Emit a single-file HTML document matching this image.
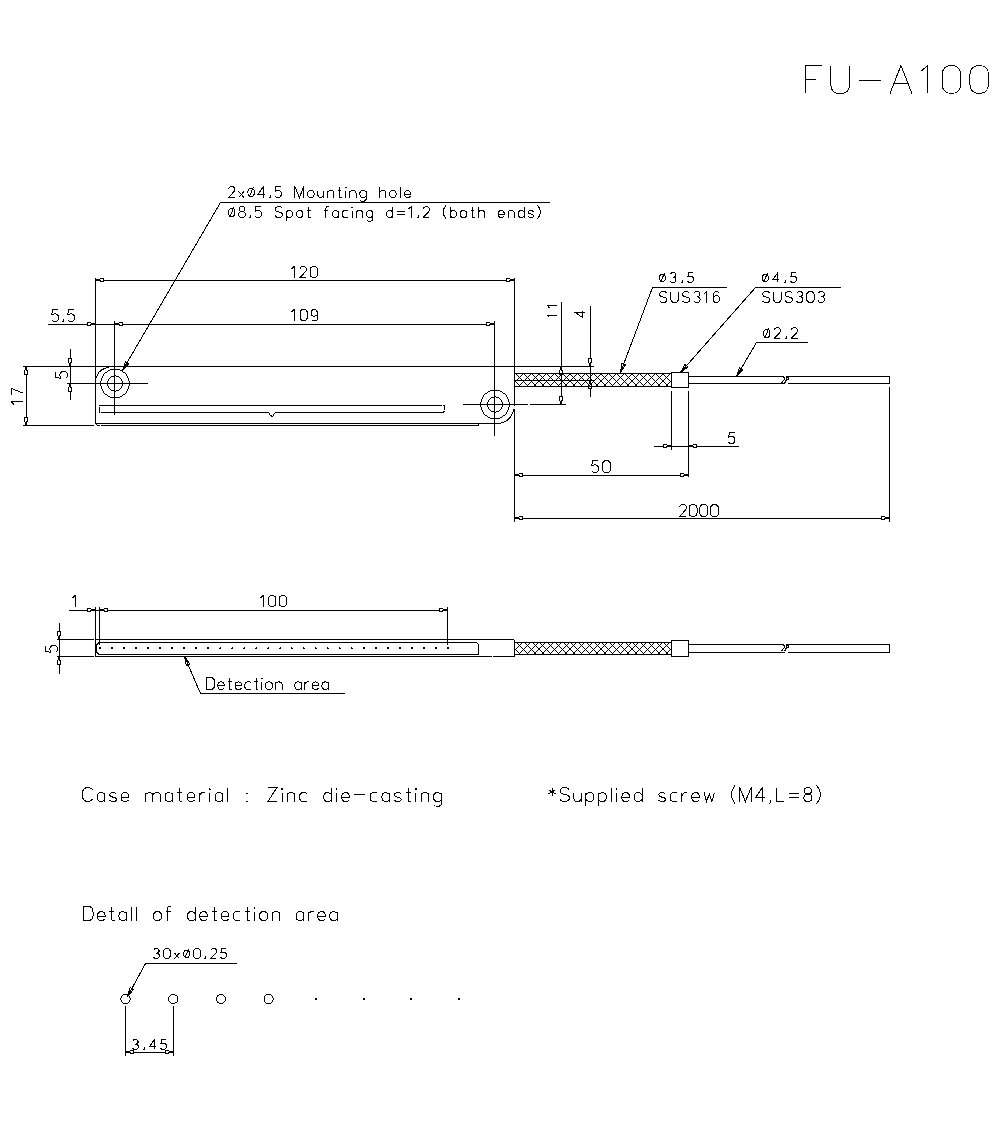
<!DOCTYPE html>
<html><head><meta charset="utf-8"><style>
html,body{margin:0;padding:0;background:#fff;}
body{width:1000px;height:1122px;overflow:hidden;}
svg{display:block;}
rect{fill:#000;}
.f{fill:#000 !important;stroke:none !important;}
path,circle{fill:none;stroke:#000;stroke-width:1;vector-effect:non-scaling-stroke;}
</style></head><body>
<svg width="1000" height="1122" viewBox="0 0 1000 1122" shape-rendering="crispEdges">
<g class="t"><path transform="translate(805.50,65.50) scale(2.3333,2.3333)" d="M7,0 L0,0 L0,12 M0,5.8 L4.3,5.8"/><path transform="translate(830.87,65.50) scale(2.3333,2.3333)" d="M0,0 L0,8.4 C0,10.8 1.4,12 4,12 C6.6,12 8,10.8 8,8.4 L8,0"/><path transform="translate(858.57,65.50) scale(2.3333,2.3333)" d="M0,6.4 L9.6,6.4"/><path transform="translate(890.00,65.50) scale(2.3333,2.3333)" d="M0,12 L4.7,0 L9.4,12 M1.8,7.8 L7.6,7.8"/><path transform="translate(920.97,65.50) scale(2.3333,2.3333)" d="M0,2.4 L3,0 L3,12"/><path transform="translate(942.13,65.50) scale(2.3333,2.3333)" d="M4,0 C6.48,0 8,1.52 8,4 L8,8 C8,10.48 6.48,12 4,12 C1.52,12 0,10.48 0,8 L0,4 C0,1.52 1.52,0 4,0 Z"/><path transform="translate(969.83,65.50) scale(2.3333,2.3333)" d="M4,0 C6.48,0 8,1.52 8,4 L8,8 C8,10.48 6.48,12 4,12 C1.52,12 0,10.48 0,8 L0,4 C0,1.52 1.52,0 4,0 Z"/></g>
<g class="t"><path transform="translate(228.50,186.50) scale(0.9167,0.9167)" d="M0,2.4 C0.6,0.6 1.8,0 3.4,0 C5.6,0 6.8,1.2 6.8,3.3 C6.8,4.6 6.2,5.5 5.2,6.4 L0,12 L6.8,12"/><path transform="translate(238.56,186.50) scale(0.9167,0.9167)" d="M0,5.4 L6,12 M6,5.4 L0,12"/><path transform="translate(247.89,186.50) scale(0.9167,0.9167)" d="M3.5,1.8 C5.8,1.8 7,3.7 7,6.4 C7,9.1 5.8,11 3.5,11 C1.2,11 0,9.1 0,6.4 C0,3.7 1.2,1.8 3.5,1.8 Z M1.4,11.6 L6,0.6"/><path transform="translate(258.13,186.50) scale(0.9167,0.9167)" d="M5.8,12 L5.8,0 L0,8.4 L7.6,8.4"/><rect x="270" y="195" width="1" height="2"/><rect x="269" y="197" width="2" height="1"/><path transform="translate(274.87,186.50) scale(0.9167,0.9167)" d="M6.6,0 L0.8,0 L0.4,5 C1.2,4.6 2.2,4.4 3.4,4.4 C5.8,4.4 7,5.8 7,8.1 C7,10.6 5.6,12 3.4,12 C1.8,12 0.6,11.4 0,10.2"/><path transform="translate(294.90,186.50) scale(0.9167,0.9167)" d="M0,12 L0,0 L4.9,12 L9.8,0 L9.8,12"/><path transform="translate(307.71,186.50) scale(0.9167,0.9167)" d="M3.5,4.4 C5.81,4.4 7,5.59 7,7.9 L7,8.5 C7,10.81 5.81,12 3.5,12 C1.19,12 0,10.81 0,8.5 L0,7.9 C0,5.59 1.19,4.4 3.5,4.4 Z"/><path transform="translate(317.95,186.50) scale(0.9167,0.9167)" d="M0,4.4 L0,9.6 C0,11.2 0.9,12 2.8,12 C4.6,12 5.8,11.2 6.4,9.8 M6.4,4.4 L6.4,12"/><path transform="translate(327.65,186.50) scale(0.9167,0.9167)" d="M0,4.4 L0,12 M0,6.2 C0.6,4.8 1.98,4.4 3.3,4.4 C5.61,4.4 6.6,5.2 6.6,6.8 L6.6,12"/><path transform="translate(337.53,186.50) scale(0.9167,0.9167)" d="M2,0.4 L2,10.6 C2,11.5 2.5,12 3.3,12 L4.4,12 M0,4.4 L4.2,4.4"/><path transform="translate(345.75,186.50) scale(0.9167,0.9167)" d="M0,4.4 L0,12 M-0.6,1.6 L0,1 L0.6,1.6"/><path transform="translate(349.95,186.50) scale(0.9167,0.9167)" d="M0,4.4 L0,12 M0,6.2 C0.6,4.8 1.98,4.4 3.3,4.4 C5.61,4.4 6.6,5.2 6.6,6.8 L6.6,12"/><path transform="translate(359.83,186.50) scale(0.9167,0.9167)" d="M6.9,4.4 L6.9,13.8 C6.9,15.3 6,16 4.2,16 L2.4,16 C1.5,16 0.9,15.7 0.5,15.1 M6.9,6.2 C6.1,4.8 4.83,4.4 3.45,4.4 C0.83,4.4 0,5.8 0,8.2 C0,10.6 0.83,12 3.45,12 C4.83,12 6.1,11.6 6.9,10.2"/><path transform="translate(379.77,186.50) scale(0.9167,0.9167)" d="M0,0 L0,12 M0,6.2 C0.6,4.8 1.98,4.4 3.3,4.4 C5.61,4.4 6.6,5.2 6.6,6.8 L6.6,12"/><path transform="translate(389.64,186.50) scale(0.9167,0.9167)" d="M3.5,4.4 C5.81,4.4 7,5.59 7,7.9 L7,8.5 C7,10.81 5.81,12 3.5,12 C1.19,12 0,10.81 0,8.5 L0,7.9 C0,5.59 1.19,4.4 3.5,4.4 Z"/><path transform="translate(400.26,186.50) scale(0.9167,0.9167)" d="M0,0 L0,12"/><path transform="translate(404.45,186.50) scale(0.9167,0.9167)" d="M0,8.2 L6.6,8.2 C6.6,5.6 5.4,4.4 3.3,4.4 C1,4.4 0,5.8 0,8.2 C0,10.8 1,12 3.3,12 C4.8,12 5.8,11.6 6.4,10.6"/></g>
<g class="t"><path transform="translate(228.50,206.50) scale(0.9167,0.9167)" d="M3.5,1.8 C5.8,1.8 7,3.7 7,6.4 C7,9.1 5.8,11 3.5,11 C1.2,11 0,9.1 0,6.4 C0,3.7 1.2,1.8 3.5,1.8 Z M1.4,11.6 L6,0.6"/><path transform="translate(238.78,206.50) scale(0.9167,0.9167)" d="M3.5,5.6 C1.6,5.6 0.4,4.6 0.4,2.8 C0.4,1 1.6,0 3.5,0 C5.4,0 6.6,1 6.6,2.8 C6.6,4.6 5.4,5.6 3.5,5.6 C1.4,5.6 0,6.8 0,8.8 C0,10.8 1.4,12 3.5,12 C5.6,12 7,10.8 7,8.8 C7,6.8 5.6,5.6 3.5,5.6 Z"/><rect x="250" y="215" width="1" height="2"/><rect x="249" y="217" width="2" height="1"/><path transform="translate(255.04,206.50) scale(0.9167,0.9167)" d="M6.6,0 L0.8,0 L0.4,5 C1.2,4.6 2.2,4.4 3.4,4.4 C5.8,4.4 7,5.8 7,8.1 C7,10.6 5.6,12 3.4,12 C1.8,12 0.6,11.4 0,10.2"/><path transform="translate(275.14,206.50) scale(0.9167,0.9167)" d="M7.8,1.8 C7.2,0.6 6,0 4,0 C1.6,0 0.2,1.1 0.2,3 C0.2,4.8 1.4,5.6 4,6 C6.8,6.4 8,7.2 8,9 C8,10.9 6.6,12 4,12 C2,12 0.6,11.3 0,10"/><path transform="translate(286.34,206.50) scale(0.9167,0.9167)" d="M0,4.4 L0,16 M0,6.2 C0.8,4.8 2.04,4.4 3.4,4.4 C5.98,4.4 6.8,5.8 6.8,8.2 C6.8,10.6 5.98,12 3.4,12 C2.04,12 0.8,11.6 0,10.2"/><path transform="translate(296.44,206.50) scale(0.9167,0.9167)" d="M3.5,4.4 C5.81,4.4 7,5.59 7,7.9 L7,8.5 C7,10.81 5.81,12 3.5,12 C1.19,12 0,10.81 0,8.5 L0,7.9 C0,5.59 1.19,4.4 3.5,4.4 Z"/><path transform="translate(306.73,206.50) scale(0.9167,0.9167)" d="M2,0.4 L2,10.6 C2,11.5 2.5,12 3.3,12 L4.4,12 M0,4.4 L4.2,4.4"/><path transform="translate(324.45,206.50) scale(0.9167,0.9167)" d="M4.5,0.3 C4.1,0.1 3.6,0 3.1,0 C2,0 1.5,0.7 1.5,2 L1.5,12 M0,4.4 L4.2,4.4"/><path transform="translate(332.44,206.50) scale(0.9167,0.9167)" d="M6.6,4.4 L6.6,12 M6.6,6.2 C5.8,4.8 4.62,4.4 3.3,4.4 C0.79,4.4 0,5.8 0,8.2 C0,10.6 0.79,12 3.3,12 C4.62,12 5.8,11.6 6.6,10.2"/><path transform="translate(342.35,206.50) scale(0.9167,0.9167)" d="M6.2,4.86 C5.42,4.4 4.03,4.4 3.1,4.4 C0.93,4.4 0,5.54 0,8.2 C0,10.86 0.93,12 3.1,12 C4.03,12 5.42,12 6.2,11.54"/><path transform="translate(352.27,206.50) scale(0.9167,0.9167)" d="M0,4.4 L0,12 M-0.6,1.6 L0,1 L0.6,1.6"/><path transform="translate(356.50,206.50) scale(0.9167,0.9167)" d="M0,4.4 L0,12 M0,6.2 C0.6,4.8 1.98,4.4 3.3,4.4 C5.61,4.4 6.6,5.2 6.6,6.8 L6.6,12"/><path transform="translate(366.42,206.50) scale(0.9167,0.9167)" d="M6.9,4.4 L6.9,13.8 C6.9,15.3 6,16 4.2,16 L2.4,16 C1.5,16 0.9,15.7 0.5,15.1 M6.9,6.2 C6.1,4.8 4.83,4.4 3.45,4.4 C0.83,4.4 0,5.8 0,8.2 C0,10.6 0.83,12 3.45,12 C4.83,12 6.1,11.6 6.9,10.2"/><path transform="translate(386.43,206.50) scale(0.9167,0.9167)" d="M6.8,0 L6.8,12 M6.8,6.2 C6,4.8 4.76,4.4 3.4,4.4 C0.82,4.4 0,5.8 0,8.2 C0,10.6 0.82,12 3.4,12 C4.76,12 6,11.6 6.8,10.2"/><path transform="translate(396.53,206.50) scale(0.9167,0.9167)" d="M0,5 L9,5 M0,8.7 L9,8.7"/><path transform="translate(408.65,206.50) scale(0.9167,0.9167)" d="M0,2.4 L3,0 L3,12"/><rect x="418" y="215" width="1" height="2"/><rect x="417" y="217" width="2" height="1"/><path transform="translate(423.25,206.50) scale(0.9167,0.9167)" d="M0,2.4 C0.6,0.6 1.8,0 3.4,0 C5.6,0 6.8,1.2 6.8,3.3 C6.8,4.6 6.2,5.5 5.2,6.4 L0,12 L6.8,12"/><path transform="translate(443.18,206.50) scale(0.9167,0.9167)" d="M3.4,-1.8 C1.2,1 0,3.5 0,6 C0,8.5 1.2,11 3.4,13.8"/><path transform="translate(450.16,206.50) scale(0.9167,0.9167)" d="M0,0 L0,12 M0,6.2 C0.8,4.8 2.04,4.4 3.4,4.4 C5.98,4.4 6.8,5.8 6.8,8.2 C6.8,10.6 5.98,12 3.4,12 C2.04,12 0.8,11.6 0,10.2"/><path transform="translate(460.26,206.50) scale(0.9167,0.9167)" d="M3.5,4.4 C5.81,4.4 7,5.59 7,7.9 L7,8.5 C7,10.81 5.81,12 3.5,12 C1.19,12 0,10.81 0,8.5 L0,7.9 C0,5.59 1.19,4.4 3.5,4.4 Z"/><path transform="translate(470.54,206.50) scale(0.9167,0.9167)" d="M2,0.4 L2,10.6 C2,11.5 2.5,12 3.3,12 L4.4,12 M0,4.4 L4.2,4.4"/><path transform="translate(478.44,206.50) scale(0.9167,0.9167)" d="M0,0 L0,12 M0,6.2 C0.6,4.8 1.98,4.4 3.3,4.4 C5.61,4.4 6.6,5.2 6.6,6.8 L6.6,12"/><path transform="translate(498.18,206.50) scale(0.9167,0.9167)" d="M0,8.2 L6.6,8.2 C6.6,5.6 5.4,4.4 3.3,4.4 C1,4.4 0,5.8 0,8.2 C0,10.8 1,12 3.3,12 C4.8,12 5.8,11.6 6.4,10.6"/><path transform="translate(508.09,206.50) scale(0.9167,0.9167)" d="M0,4.4 L0,12 M0,6.2 C0.6,4.8 1.98,4.4 3.3,4.4 C5.61,4.4 6.6,5.2 6.6,6.8 L6.6,12"/><path transform="translate(518.01,206.50) scale(0.9167,0.9167)" d="M6.8,0 L6.8,12 M6.8,6.2 C6,4.8 4.76,4.4 3.4,4.4 C0.82,4.4 0,5.8 0,8.2 C0,10.6 0.82,12 3.4,12 C4.76,12 6,11.6 6.8,10.2"/><path transform="translate(528.11,206.50) scale(0.9167,0.9167)" d="M5.7,5.6 C5.2,4.7 4.3,4.4 3,4.4 C1.2,4.4 0.2,5.1 0.2,6.3 C0.2,7.6 1.2,8 3,8.3 C4.9,8.6 5.9,9.2 5.9,10.3 C5.9,11.3 4.8,12 3,12 C1.6,12 0.6,11.6 0,10.8"/><path transform="translate(537.38,206.50) scale(0.9167,0.9167)" d="M0,-1.8 C2.2,1 3.4,3.5 3.4,6 C3.4,8.5 2.2,11 0,13.8"/></g>
<rect x="220" y="202" width="330" height="1"/>
<path d="M220.5,202.5L122.5,370.5"/>
<path d="M122.50,370.50L128.68,363.68L125.39,361.77Z"/>
<g class="t"><path transform="translate(291.50,266.50) scale(0.9167,0.9167)" d="M0,2.4 L3,0 L3,12"/><path transform="translate(300.10,266.50) scale(0.9167,0.9167)" d="M0,2.4 C0.6,0.6 1.8,0 3.4,0 C5.6,0 6.8,1.2 6.8,3.3 C6.8,4.6 6.2,5.5 5.2,6.4 L0,12 L6.8,12"/><path transform="translate(310.17,266.50) scale(0.9167,0.9167)" d="M4,0 C6.48,0 8,1.52 8,4 L8,8 C8,10.48 6.48,12 4,12 C1.52,12 0,10.48 0,8 L0,4 C0,1.52 1.52,0 4,0 Z"/></g>
<g class="t"><path transform="translate(291.50,309.50) scale(0.9167,0.9167)" d="M0,2.4 L3,0 L3,12"/><path transform="translate(300.01,309.50) scale(0.9167,0.9167)" d="M4,0 C6.48,0 8,1.52 8,4 L8,8 C8,10.48 6.48,12 4,12 C1.52,12 0,10.48 0,8 L0,4 C0,1.52 1.52,0 4,0 Z"/><path transform="translate(311.08,309.50) scale(0.9167,0.9167)" d="M7,4.8 C6.4,6.6 5.2,7.4 3.5,7.4 C1.3,7.4 0,6 0,3.7 C0,1.4 1.3,0 3.5,0 C5.8,0 7,1.6 7,5 L7,9.4 C7,11 6.2,12 4.4,12 L1.4,12"/></g>
<g class="t"><path transform="translate(51.50,309.50) scale(1.0000,1.0000)" d="M6.6,0 L0.8,0 L0.4,5 C1.2,4.6 2.2,4.4 3.4,4.4 C5.8,4.4 7,5.8 7,8.1 C7,10.6 5.6,12 3.4,12 C1.8,12 0.6,11.4 0,10.2"/><rect x="63" y="319" width="1" height="2"/><rect x="62" y="321" width="2" height="1"/><path transform="translate(67.50,309.50) scale(1.0000,1.0000)" d="M6.6,0 L0.8,0 L0.4,5 C1.2,4.6 2.2,4.4 3.4,4.4 C5.8,4.4 7,5.8 7,8.1 C7,10.6 5.6,12 3.4,12 C1.8,12 0.6,11.4 0,10.2"/></g>
<rect x="95" y="280" width="420" height="1"/>
<rect x="101" y="279" width="2" height="2" style="fill:#fff"/>
<rect x="96" y="279" width="4" height="2"/>
<rect x="100" y="278" width="4" height="1"/>
<rect x="100" y="281" width="4" height="1"/>
<rect x="103" y="278" width="1" height="4"/>
<rect x="100" y="278" width="1" height="1"/>
<rect x="507" y="279" width="2" height="2" style="fill:#fff"/>
<rect x="510" y="279" width="4" height="2"/>
<rect x="506" y="278" width="4" height="1"/>
<rect x="506" y="281" width="4" height="1"/>
<rect x="506" y="278" width="1" height="4"/>
<rect x="509" y="278" width="1" height="1"/>
<rect x="48" y="324" width="447" height="1"/>
<rect x="88" y="323" width="2" height="2" style="fill:#fff"/>
<rect x="91" y="323" width="4" height="2"/>
<rect x="87" y="322" width="4" height="1"/>
<rect x="87" y="325" width="4" height="1"/>
<rect x="87" y="322" width="1" height="4"/>
<rect x="90" y="322" width="1" height="1"/>
<rect x="120" y="323" width="2" height="2" style="fill:#fff"/>
<rect x="115" y="323" width="4" height="2"/>
<rect x="119" y="322" width="4" height="1"/>
<rect x="119" y="325" width="4" height="1"/>
<rect x="122" y="322" width="1" height="4"/>
<rect x="119" y="322" width="1" height="1"/>
<rect x="487" y="323" width="2" height="2" style="fill:#fff"/>
<rect x="490" y="323" width="4" height="2"/>
<rect x="486" y="322" width="4" height="1"/>
<rect x="486" y="325" width="4" height="1"/>
<rect x="486" y="322" width="1" height="4"/>
<rect x="489" y="322" width="1" height="1"/>
<rect x="95" y="278" width="1" height="146"/>
<rect x="514" y="278" width="1" height="128"/>
<rect x="514" y="409" width="1" height="113"/>
<rect x="114" y="321" width="1" height="94"/>
<rect x="494" y="321" width="1" height="115"/>
<rect x="23" y="366" width="571" height="1"/>
<rect x="95" y="423" width="403" height="1"/>
<rect x="23" y="425" width="71" height="1"/>
<rect x="101" y="425" width="378" height="1"/>
<rect x="478" y="423" width="1" height="3"/>
<path d="M96.5,424.5L97.5,425.5L99.5,425.5"/>
<rect x="26" y="366" width="1" height="60"/>
<rect x="25" y="371" width="2" height="3" style="fill:#fff"/>
<rect x="25" y="367" width="2" height="3"/>
<rect x="24" y="370" width="1" height="5"/>
<rect x="27" y="370" width="1" height="5"/>
<rect x="24" y="374" width="4" height="1"/>
<rect x="24" y="370" width="1" height="1"/>
<rect x="25" y="418" width="2" height="3" style="fill:#fff"/>
<rect x="25" y="422" width="2" height="3"/>
<rect x="24" y="417" width="1" height="5"/>
<rect x="27" y="417" width="1" height="5"/>
<rect x="24" y="417" width="4" height="1"/>
<rect x="24" y="421" width="1" height="1"/>
<g class="t"><path transform="translate(11.50,404.50) rotate(-90) scale(0.9167,0.9167)" d="M0,2.4 L3,0 L3,12"/><path transform="translate(11.50,394.92) rotate(-90) scale(0.9167,0.9167)" d="M0,0 L7,0 L2.2,12"/></g>
<rect x="70" y="349" width="1" height="51"/>
<rect x="69" y="359" width="2" height="3" style="fill:#fff"/>
<rect x="69" y="363" width="2" height="3"/>
<rect x="68" y="358" width="1" height="5"/>
<rect x="71" y="358" width="1" height="5"/>
<rect x="68" y="358" width="4" height="1"/>
<rect x="68" y="362" width="1" height="1"/>
<rect x="69" y="388" width="2" height="3" style="fill:#fff"/>
<rect x="69" y="384" width="2" height="3"/>
<rect x="68" y="387" width="1" height="5"/>
<rect x="71" y="387" width="1" height="5"/>
<rect x="68" y="391" width="4" height="1"/>
<rect x="68" y="387" width="1" height="1"/>
<g class="t"><path transform="translate(55.50,378.50) rotate(-90) scale(1.0000,1.0000)" d="M6.6,0 L0.8,0 L0.4,5 C1.2,4.6 2.2,4.4 3.4,4.4 C5.8,4.4 7,5.8 7,8.1 C7,10.6 5.6,12 3.4,12 C1.8,12 0.6,11.4 0,10.2"/></g>
<rect x="67" y="383" width="81" height="1"/>
<path class="f" d="M100,381h1v1h-1zM100,382h1v1h-1zM100,383h1v1h-1zM100,384h1v1h-1zM100,385h1v1h-1zM101,378h1v1h-1zM101,379h1v1h-1zM101,380h1v1h-1zM101,386h1v1h-1zM101,387h1v1h-1zM101,388h1v1h-1zM102,376h1v1h-1zM102,377h1v1h-1zM102,389h1v1h-1zM102,390h1v1h-1zM103,374h1v1h-1zM103,375h1v1h-1zM103,391h1v1h-1zM103,392h1v1h-1zM104,373h1v1h-1zM104,393h1v1h-1zM105,372h1v1h-1zM105,394h1v1h-1zM106,372h1v1h-1zM106,394h1v1h-1zM107,371h1v1h-1zM107,395h1v1h-1zM108,370h1v1h-1zM108,396h1v1h-1zM109,370h1v1h-1zM109,396h1v1h-1zM110,369h1v1h-1zM110,397h1v1h-1zM111,369h1v1h-1zM111,397h1v1h-1zM112,369h1v1h-1zM112,397h1v1h-1zM113,369h1v1h-1zM113,397h1v1h-1zM114,369h1v1h-1zM114,397h1v1h-1zM115,369h1v1h-1zM115,397h1v1h-1zM116,369h1v1h-1zM116,397h1v1h-1zM117,369h1v1h-1zM117,397h1v1h-1zM118,369h1v1h-1zM118,397h1v1h-1zM119,369h1v1h-1zM119,397h1v1h-1zM120,370h1v1h-1zM120,396h1v1h-1zM121,370h1v1h-1zM121,396h1v1h-1zM122,371h1v1h-1zM122,395h1v1h-1zM123,372h1v1h-1zM123,394h1v1h-1zM124,372h1v1h-1zM124,394h1v1h-1zM125,373h1v1h-1zM125,393h1v1h-1zM126,374h1v1h-1zM126,375h1v1h-1zM126,391h1v1h-1zM126,392h1v1h-1zM127,376h1v1h-1zM127,377h1v1h-1zM127,389h1v1h-1zM127,390h1v1h-1zM128,378h1v1h-1zM128,379h1v1h-1zM128,380h1v1h-1zM128,386h1v1h-1zM128,387h1v1h-1zM128,388h1v1h-1zM129,381h1v1h-1zM129,382h1v1h-1zM129,383h1v1h-1zM129,384h1v1h-1zM129,385h1v1h-1z"/>
<path class="f" d="M107,381h1v1h-1zM107,382h1v1h-1zM107,383h1v1h-1zM107,384h1v1h-1zM107,385h1v1h-1zM108,379h1v1h-1zM108,380h1v1h-1zM108,386h1v1h-1zM108,387h1v1h-1zM109,378h1v1h-1zM109,388h1v1h-1zM110,377h1v1h-1zM110,389h1v1h-1zM111,376h1v1h-1zM111,390h1v1h-1zM112,376h1v1h-1zM112,390h1v1h-1zM113,376h1v1h-1zM113,390h1v1h-1zM114,375h1v1h-1zM114,391h1v1h-1zM115,375h1v1h-1zM115,391h1v1h-1zM116,376h1v1h-1zM116,390h1v1h-1zM117,376h1v1h-1zM117,390h1v1h-1zM118,376h1v1h-1zM118,390h1v1h-1zM119,377h1v1h-1zM119,389h1v1h-1zM120,378h1v1h-1zM120,388h1v1h-1zM121,379h1v1h-1zM121,380h1v1h-1zM121,386h1v1h-1zM121,387h1v1h-1zM122,381h1v1h-1zM122,382h1v1h-1zM122,383h1v1h-1zM122,384h1v1h-1zM122,385h1v1h-1z"/>
<path d="M96.5,378.5A13,12 0 0 1 109.5,367.5"/>
<rect x="99" y="405" width="343" height="1"/>
<rect x="443" y="405" width="2" height="1"/>
<rect x="444" y="406" width="1" height="4"/>
<rect x="101" y="412" width="168" height="1"/>
<rect x="275" y="412" width="169" height="1"/>
<rect x="443" y="411" width="2" height="1"/>
<rect x="99" y="407" width="1" height="6"/>
<path d="M268.5,412.5L270.5,415.5L272.5,416.5L274.5,413.5"/>
<path class="f" d="M480,402h1v1h-1zM480,403h1v1h-1zM480,404h1v1h-1zM480,405h1v1h-1zM480,406h1v1h-1zM481,399h1v1h-1zM481,400h1v1h-1zM481,401h1v1h-1zM481,407h1v1h-1zM481,408h1v1h-1zM481,409h1v1h-1zM482,397h1v1h-1zM482,398h1v1h-1zM482,410h1v1h-1zM482,411h1v1h-1zM483,395h1v1h-1zM483,396h1v1h-1zM483,412h1v1h-1zM483,413h1v1h-1zM484,394h1v1h-1zM484,414h1v1h-1zM485,393h1v1h-1zM485,415h1v1h-1zM486,393h1v1h-1zM486,415h1v1h-1zM487,392h1v1h-1zM487,416h1v1h-1zM488,391h1v1h-1zM488,417h1v1h-1zM489,391h1v1h-1zM489,417h1v1h-1zM490,390h1v1h-1zM490,418h1v1h-1zM491,390h1v1h-1zM491,418h1v1h-1zM492,390h1v1h-1zM492,418h1v1h-1zM493,390h1v1h-1zM493,418h1v1h-1zM494,390h1v1h-1zM494,418h1v1h-1zM495,390h1v1h-1zM495,418h1v1h-1zM496,390h1v1h-1zM496,418h1v1h-1zM497,390h1v1h-1zM497,418h1v1h-1zM498,390h1v1h-1zM498,418h1v1h-1zM499,390h1v1h-1zM499,418h1v1h-1zM500,391h1v1h-1zM500,417h1v1h-1zM501,391h1v1h-1zM501,417h1v1h-1zM502,392h1v1h-1zM502,416h1v1h-1zM503,393h1v1h-1zM503,415h1v1h-1zM504,393h1v1h-1zM504,415h1v1h-1zM505,394h1v1h-1zM505,414h1v1h-1zM506,395h1v1h-1zM506,396h1v1h-1zM506,412h1v1h-1zM506,413h1v1h-1zM507,397h1v1h-1zM507,398h1v1h-1zM507,410h1v1h-1zM507,411h1v1h-1zM508,399h1v1h-1zM508,400h1v1h-1zM508,401h1v1h-1zM508,407h1v1h-1zM508,408h1v1h-1zM508,409h1v1h-1zM509,402h1v1h-1zM509,403h1v1h-1zM509,404h1v1h-1zM509,405h1v1h-1zM509,406h1v1h-1z"/>
<path class="f" d="M487,402h1v1h-1zM487,403h1v1h-1zM487,404h1v1h-1zM487,405h1v1h-1zM487,406h1v1h-1zM488,400h1v1h-1zM488,401h1v1h-1zM488,407h1v1h-1zM488,408h1v1h-1zM489,399h1v1h-1zM489,409h1v1h-1zM490,398h1v1h-1zM490,410h1v1h-1zM491,397h1v1h-1zM491,411h1v1h-1zM492,397h1v1h-1zM492,411h1v1h-1zM493,397h1v1h-1zM493,411h1v1h-1zM494,396h1v1h-1zM494,412h1v1h-1zM495,396h1v1h-1zM495,412h1v1h-1zM496,397h1v1h-1zM496,411h1v1h-1zM497,397h1v1h-1zM497,411h1v1h-1zM498,397h1v1h-1zM498,411h1v1h-1zM499,398h1v1h-1zM499,410h1v1h-1zM500,399h1v1h-1zM500,409h1v1h-1zM501,400h1v1h-1zM501,401h1v1h-1zM501,407h1v1h-1zM501,408h1v1h-1zM502,402h1v1h-1zM502,403h1v1h-1zM502,404h1v1h-1zM502,405h1v1h-1zM502,406h1v1h-1z"/>
<rect x="463" y="404" width="65" height="1"/>
<rect x="530" y="404" width="36" height="1"/>
<path d="M513.5,408.5A16,16 0 0 1 497.5,423.5"/>
<rect x="561" y="302" width="1" height="103"/>
<rect x="560" y="371" width="2" height="3" style="fill:#fff"/>
<rect x="560" y="367" width="2" height="3"/>
<rect x="559" y="370" width="1" height="5"/>
<rect x="562" y="370" width="1" height="5"/>
<rect x="559" y="374" width="4" height="1"/>
<rect x="559" y="370" width="1" height="1"/>
<rect x="560" y="397" width="2" height="3" style="fill:#fff"/>
<rect x="560" y="401" width="2" height="3"/>
<rect x="559" y="396" width="1" height="5"/>
<rect x="562" y="396" width="1" height="5"/>
<rect x="559" y="396" width="4" height="1"/>
<rect x="559" y="400" width="1" height="1"/>
<g class="t"><path transform="translate(547.50,317.50) rotate(-90) scale(0.8333,0.8333)" d="M0,2.4 L3,0 L3,12"/><path transform="translate(547.50,308.00) rotate(-90) scale(0.8333,0.8333)" d="M0,2.4 L3,0 L3,12"/></g>
<rect x="590" y="306" width="1" height="91"/>
<rect x="589" y="359" width="2" height="3" style="fill:#fff"/>
<rect x="589" y="363" width="2" height="3"/>
<rect x="588" y="358" width="1" height="5"/>
<rect x="591" y="358" width="1" height="5"/>
<rect x="588" y="358" width="4" height="1"/>
<rect x="588" y="362" width="1" height="1"/>
<rect x="589" y="385" width="2" height="3" style="fill:#fff"/>
<rect x="589" y="381" width="2" height="3"/>
<rect x="588" y="384" width="1" height="5"/>
<rect x="591" y="384" width="1" height="5"/>
<rect x="588" y="388" width="4" height="1"/>
<rect x="588" y="384" width="1" height="1"/>
<g class="t"><path transform="translate(575.50,317.50) rotate(-90) scale(0.8333,0.8333)" d="M5.8,12 L5.8,0 L0,8.4 L7.6,8.4"/></g>
<rect x="514" y="380" width="80" height="1"/>
<rect x="514" y="373" width="158" height="1"/>
<rect x="514" y="386" width="158" height="1"/>
<path class="f" d="M515,381h1v1h-1zM516,374h1v1h-1zM516,380h1v1h-1zM516,382h1v1h-1zM517,375h1v1h-1zM517,379h1v1h-1zM517,383h1v1h-1zM518,376h1v1h-1zM518,378h1v1h-1zM518,384h1v1h-1zM519,377h1v1h-1zM519,385h1v1h-1zM520,376h1v1h-1zM520,378h1v1h-1zM520,384h1v1h-1zM521,375h1v1h-1zM521,379h1v1h-1zM521,383h1v1h-1zM522,374h1v1h-1zM522,380h1v1h-1zM522,382h1v1h-1zM523,381h1v1h-1zM524,374h1v1h-1zM524,380h1v1h-1zM524,382h1v1h-1zM525,375h1v1h-1zM525,379h1v1h-1zM525,383h1v1h-1zM526,376h1v1h-1zM526,378h1v1h-1zM526,384h1v1h-1zM527,377h1v1h-1zM527,385h1v1h-1zM528,376h1v1h-1zM528,378h1v1h-1zM528,384h1v1h-1zM529,375h1v1h-1zM529,379h1v1h-1zM529,383h1v1h-1zM530,374h1v1h-1zM530,380h1v1h-1zM530,382h1v1h-1zM531,381h1v1h-1zM532,374h1v1h-1zM532,380h1v1h-1zM532,382h1v1h-1zM533,375h1v1h-1zM533,379h1v1h-1zM533,383h1v1h-1zM534,376h1v1h-1zM534,378h1v1h-1zM534,384h1v1h-1zM534,385h1v1h-1zM535,377h1v1h-1zM535,384h1v1h-1zM535,385h1v1h-1zM536,376h1v1h-1zM536,378h1v1h-1zM536,383h1v1h-1zM537,375h1v1h-1zM537,379h1v1h-1zM537,382h1v1h-1zM538,374h1v1h-1zM538,380h1v1h-1zM538,381h1v1h-1zM539,374h1v1h-1zM539,380h1v1h-1zM539,381h1v1h-1zM540,375h1v1h-1zM540,379h1v1h-1zM540,382h1v1h-1zM541,376h1v1h-1zM541,378h1v1h-1zM541,383h1v1h-1zM542,377h1v1h-1zM542,384h1v1h-1zM542,385h1v1h-1zM543,376h1v1h-1zM543,378h1v1h-1zM543,384h1v1h-1zM543,385h1v1h-1zM544,375h1v1h-1zM544,379h1v1h-1zM544,383h1v1h-1zM545,374h1v1h-1zM545,380h1v1h-1zM545,382h1v1h-1zM546,381h1v1h-1zM547,374h1v1h-1zM547,380h1v1h-1zM547,382h1v1h-1zM548,375h1v1h-1zM548,379h1v1h-1zM548,383h1v1h-1zM549,376h1v1h-1zM549,378h1v1h-1zM549,384h1v1h-1zM550,377h1v1h-1zM550,385h1v1h-1zM551,376h1v1h-1zM551,378h1v1h-1zM551,384h1v1h-1zM552,375h1v1h-1zM552,379h1v1h-1zM552,383h1v1h-1zM553,374h1v1h-1zM553,380h1v1h-1zM553,382h1v1h-1zM554,381h1v1h-1zM555,374h1v1h-1zM555,380h1v1h-1zM555,382h1v1h-1zM556,375h1v1h-1zM556,379h1v1h-1zM556,383h1v1h-1zM557,376h1v1h-1zM557,378h1v1h-1zM557,384h1v1h-1zM558,377h1v1h-1zM558,385h1v1h-1zM559,376h1v1h-1zM559,378h1v1h-1zM559,384h1v1h-1zM560,375h1v1h-1zM560,379h1v1h-1zM560,383h1v1h-1zM561,374h1v1h-1zM561,380h1v1h-1zM561,382h1v1h-1zM562,381h1v1h-1zM563,374h1v1h-1zM563,380h1v1h-1zM563,382h1v1h-1zM564,375h1v1h-1zM564,379h1v1h-1zM564,383h1v1h-1zM565,376h1v1h-1zM565,378h1v1h-1zM565,384h1v1h-1zM565,385h1v1h-1zM566,377h1v1h-1zM566,384h1v1h-1zM566,385h1v1h-1zM567,376h1v1h-1zM567,378h1v1h-1zM567,383h1v1h-1zM568,375h1v1h-1zM568,379h1v1h-1zM568,382h1v1h-1zM569,374h1v1h-1zM569,380h1v1h-1zM569,381h1v1h-1zM570,374h1v1h-1zM570,380h1v1h-1zM570,381h1v1h-1zM571,375h1v1h-1zM571,379h1v1h-1zM571,382h1v1h-1zM572,376h1v1h-1zM572,378h1v1h-1zM572,383h1v1h-1zM573,377h1v1h-1zM573,384h1v1h-1zM573,385h1v1h-1zM574,376h1v1h-1zM574,378h1v1h-1zM574,384h1v1h-1zM574,385h1v1h-1zM575,375h1v1h-1zM575,379h1v1h-1zM575,383h1v1h-1zM576,374h1v1h-1zM576,380h1v1h-1zM576,382h1v1h-1zM577,381h1v1h-1zM578,374h1v1h-1zM578,380h1v1h-1zM578,382h1v1h-1zM579,375h1v1h-1zM579,379h1v1h-1zM579,383h1v1h-1zM580,376h1v1h-1zM580,378h1v1h-1zM580,384h1v1h-1zM581,377h1v1h-1zM581,385h1v1h-1zM582,376h1v1h-1zM582,378h1v1h-1zM582,384h1v1h-1zM583,375h1v1h-1zM583,379h1v1h-1zM583,383h1v1h-1zM584,374h1v1h-1zM584,380h1v1h-1zM584,382h1v1h-1zM585,381h1v1h-1zM586,374h1v1h-1zM586,380h1v1h-1zM586,382h1v1h-1zM587,375h1v1h-1zM587,379h1v1h-1zM587,383h1v1h-1zM588,376h1v1h-1zM588,378h1v1h-1zM588,384h1v1h-1zM589,377h1v1h-1zM589,385h1v1h-1zM590,376h1v1h-1zM590,378h1v1h-1zM590,384h1v1h-1zM591,375h1v1h-1zM591,379h1v1h-1zM591,383h1v1h-1zM592,374h1v1h-1zM592,380h1v1h-1zM592,382h1v1h-1zM593,381h1v1h-1zM594,374h1v1h-1zM594,380h1v1h-1zM594,382h1v1h-1zM595,375h1v1h-1zM595,379h1v1h-1zM595,383h1v1h-1zM596,376h1v1h-1zM596,378h1v1h-1zM596,384h1v1h-1zM596,385h1v1h-1zM597,377h1v1h-1zM597,384h1v1h-1zM597,385h1v1h-1zM598,376h1v1h-1zM598,378h1v1h-1zM598,383h1v1h-1zM599,375h1v1h-1zM599,379h1v1h-1zM599,382h1v1h-1zM600,374h1v1h-1zM600,380h1v1h-1zM600,381h1v1h-1zM601,374h1v1h-1zM601,380h1v1h-1zM601,381h1v1h-1zM602,375h1v1h-1zM602,379h1v1h-1zM602,382h1v1h-1zM603,376h1v1h-1zM603,378h1v1h-1zM603,383h1v1h-1zM604,377h1v1h-1zM604,384h1v1h-1zM604,385h1v1h-1zM605,376h1v1h-1zM605,378h1v1h-1zM605,384h1v1h-1zM605,385h1v1h-1zM606,375h1v1h-1zM606,379h1v1h-1zM606,383h1v1h-1zM607,374h1v1h-1zM607,380h1v1h-1zM607,382h1v1h-1zM608,381h1v1h-1zM609,374h1v1h-1zM609,380h1v1h-1zM609,382h1v1h-1zM610,375h1v1h-1zM610,379h1v1h-1zM610,383h1v1h-1zM611,376h1v1h-1zM611,378h1v1h-1zM611,384h1v1h-1zM612,377h1v1h-1zM612,385h1v1h-1zM613,376h1v1h-1zM613,378h1v1h-1zM613,384h1v1h-1zM614,375h1v1h-1zM614,379h1v1h-1zM614,383h1v1h-1zM615,374h1v1h-1zM615,380h1v1h-1zM615,382h1v1h-1zM616,381h1v1h-1zM617,374h1v1h-1zM617,380h1v1h-1zM617,382h1v1h-1zM618,375h1v1h-1zM618,379h1v1h-1zM618,383h1v1h-1zM619,376h1v1h-1zM619,378h1v1h-1zM619,384h1v1h-1zM620,377h1v1h-1zM620,385h1v1h-1zM621,376h1v1h-1zM621,378h1v1h-1zM621,384h1v1h-1zM622,375h1v1h-1zM622,379h1v1h-1zM622,383h1v1h-1zM623,374h1v1h-1zM623,380h1v1h-1zM623,382h1v1h-1zM624,381h1v1h-1zM625,374h1v1h-1zM625,380h1v1h-1zM625,382h1v1h-1zM626,375h1v1h-1zM626,379h1v1h-1zM626,383h1v1h-1zM627,376h1v1h-1zM627,378h1v1h-1zM627,384h1v1h-1zM627,385h1v1h-1zM628,377h1v1h-1zM628,384h1v1h-1zM628,385h1v1h-1zM629,376h1v1h-1zM629,378h1v1h-1zM629,383h1v1h-1zM630,375h1v1h-1zM630,379h1v1h-1zM630,382h1v1h-1zM631,374h1v1h-1zM631,380h1v1h-1zM631,381h1v1h-1zM632,374h1v1h-1zM632,380h1v1h-1zM632,381h1v1h-1zM633,375h1v1h-1zM633,379h1v1h-1zM633,382h1v1h-1zM634,376h1v1h-1zM634,378h1v1h-1zM634,383h1v1h-1zM635,377h1v1h-1zM635,384h1v1h-1zM635,385h1v1h-1zM636,376h1v1h-1zM636,378h1v1h-1zM636,384h1v1h-1zM636,385h1v1h-1zM637,375h1v1h-1zM637,379h1v1h-1zM637,383h1v1h-1zM638,374h1v1h-1zM638,380h1v1h-1zM638,382h1v1h-1zM639,381h1v1h-1zM640,374h1v1h-1zM640,380h1v1h-1zM640,382h1v1h-1zM641,375h1v1h-1zM641,379h1v1h-1zM641,383h1v1h-1zM642,376h1v1h-1zM642,378h1v1h-1zM642,384h1v1h-1zM643,377h1v1h-1zM643,385h1v1h-1zM644,376h1v1h-1zM644,378h1v1h-1zM644,384h1v1h-1zM645,375h1v1h-1zM645,379h1v1h-1zM645,383h1v1h-1zM646,374h1v1h-1zM646,380h1v1h-1zM646,382h1v1h-1zM647,381h1v1h-1zM648,374h1v1h-1zM648,380h1v1h-1zM648,382h1v1h-1zM649,375h1v1h-1zM649,379h1v1h-1zM649,383h1v1h-1zM650,376h1v1h-1zM650,378h1v1h-1zM650,384h1v1h-1zM651,377h1v1h-1zM651,385h1v1h-1zM652,376h1v1h-1zM652,378h1v1h-1zM652,384h1v1h-1zM653,375h1v1h-1zM653,379h1v1h-1zM653,383h1v1h-1zM654,374h1v1h-1zM654,380h1v1h-1zM654,382h1v1h-1zM655,381h1v1h-1zM656,374h1v1h-1zM656,380h1v1h-1zM656,382h1v1h-1zM657,375h1v1h-1zM657,379h1v1h-1zM657,383h1v1h-1zM658,376h1v1h-1zM658,378h1v1h-1zM658,384h1v1h-1zM658,385h1v1h-1zM659,377h1v1h-1zM659,384h1v1h-1zM659,385h1v1h-1zM660,376h1v1h-1zM660,378h1v1h-1zM660,383h1v1h-1zM661,375h1v1h-1zM661,379h1v1h-1zM661,382h1v1h-1zM662,374h1v1h-1zM662,380h1v1h-1zM662,381h1v1h-1zM663,374h1v1h-1zM663,380h1v1h-1zM663,381h1v1h-1zM664,375h1v1h-1zM664,379h1v1h-1zM664,382h1v1h-1zM665,376h1v1h-1zM665,378h1v1h-1zM665,383h1v1h-1zM666,377h1v1h-1zM666,384h1v1h-1zM666,385h1v1h-1zM667,376h1v1h-1zM667,378h1v1h-1zM667,384h1v1h-1zM667,385h1v1h-1zM668,375h1v1h-1zM668,379h1v1h-1zM668,383h1v1h-1zM669,374h1v1h-1zM669,380h1v1h-1zM669,382h1v1h-1zM670,381h1v1h-1z"/>
<rect x="671" y="372" width="18" height="1"/>
<rect x="671" y="387" width="18" height="1"/>
<rect x="671" y="372" width="1" height="16"/>
<rect x="688" y="372" width="1" height="16"/>
<rect x="688" y="376" width="96" height="1"/>
<rect x="786" y="376" width="104" height="1"/>
<rect x="688" y="383" width="97" height="1"/>
<rect x="788" y="383" width="102" height="1"/>
<rect x="889" y="376" width="1" height="8"/>
<path d="M783.5,376.5L784.5,378.5L784.5,379.5L782.5,381.5L781.5,383.5"/>
<path d="M786.5,376.5L786.5,379.5L785.5,381.5L784.5,383.5"/>
<path d="M786.5,376.5L787.5,376.5L788.5,378.5L787.5,380.5"/>
<g class="t"><path transform="translate(659.50,272.50) scale(0.8333,0.8333)" d="M3.5,1.8 C5.8,1.8 7,3.7 7,6.4 C7,9.1 5.8,11 3.5,11 C1.2,11 0,9.1 0,6.4 C0,3.7 1.2,1.8 3.5,1.8 Z M1.4,11.6 L6,0.6"/><path transform="translate(670.19,272.50) scale(0.8333,0.8333)" d="M0.2,2 C0.8,0.6 2,0 3.6,0 C5.8,0 6.8,1.2 6.8,2.9 C6.8,4.6 5.6,5.6 3.2,5.6 C5.8,5.6 7,6.8 7,8.7 C7,10.8 5.6,12 3.5,12 C1.8,12 0.6,11.3 0,10"/><rect x="682" y="280" width="1" height="2"/><rect x="681" y="282" width="2" height="1"/><path transform="translate(687.67,272.50) scale(0.8333,0.8333)" d="M6.6,0 L0.8,0 L0.4,5 C1.2,4.6 2.2,4.4 3.4,4.4 C5.8,4.4 7,5.8 7,8.1 C7,10.6 5.6,12 3.4,12 C1.8,12 0.6,11.4 0,10.2"/></g>
<g class="t"><path transform="translate(659.50,291.50) scale(0.9167,0.9167)" d="M7.8,1.8 C7.2,0.6 6,0 4,0 C1.6,0 0.2,1.1 0.2,3 C0.2,4.8 1.4,5.6 4,6 C6.8,6.4 8,7.2 8,9 C8,10.9 6.6,12 4,12 C2,12 0.6,11.3 0,10"/><path transform="translate(670.91,291.50) scale(0.9167,0.9167)" d="M0,0 L0,8.4 C0,10.8 1.4,12 4,12 C6.6,12 8,10.8 8,8.4 L8,0"/><path transform="translate(682.33,291.50) scale(0.9167,0.9167)" d="M7.8,1.8 C7.2,0.6 6,0 4,0 C1.6,0 0.2,1.1 0.2,3 C0.2,4.8 1.4,5.6 4,6 C6.8,6.4 8,7.2 8,9 C8,10.9 6.6,12 4,12 C2,12 0.6,11.3 0,10"/><path transform="translate(693.74,291.50) scale(0.9167,0.9167)" d="M0.2,2 C0.8,0.6 2,0 3.6,0 C5.8,0 6.8,1.2 6.8,2.9 C6.8,4.6 5.6,5.6 3.2,5.6 C5.8,5.6 7,6.8 7,8.7 C7,10.8 5.6,12 3.5,12 C1.8,12 0.6,11.3 0,10"/><path transform="translate(704.24,291.50) scale(0.9167,0.9167)" d="M0,2.4 L3,0 L3,12"/><path transform="translate(713.08,291.50) scale(0.9167,0.9167)" d="M6.4,1 C5.8,0.3 4.9,0 3.8,0 C1.2,0 0,2.4 0,6.2 L0,8 C0,10.6 1.3,12 3.5,12 C5.7,12 7,10.6 7,8.2 C7,5.9 5.7,4.6 3.5,4.6 C1.8,4.6 0.6,5.4 0,6.8"/></g>
<rect x="652" y="287" width="75" height="1"/>
<path d="M652.5,287.5L620.5,372.5"/>
<path d="M620.50,372.50L625.45,364.75L621.89,363.41Z"/>
<g class="t"><path transform="translate(762.50,272.50) scale(0.8333,0.8333)" d="M3.5,1.8 C5.8,1.8 7,3.7 7,6.4 C7,9.1 5.8,11 3.5,11 C1.2,11 0,9.1 0,6.4 C0,3.7 1.2,1.8 3.5,1.8 Z M1.4,11.6 L6,0.6"/><path transform="translate(773.03,272.50) scale(0.8333,0.8333)" d="M5.8,12 L5.8,0 L0,8.4 L7.6,8.4"/><rect x="785" y="280" width="1" height="2"/><rect x="784" y="282" width="2" height="1"/><path transform="translate(790.67,272.50) scale(0.8333,0.8333)" d="M6.6,0 L0.8,0 L0.4,5 C1.2,4.6 2.2,4.4 3.4,4.4 C5.8,4.4 7,5.8 7,8.1 C7,10.6 5.6,12 3.4,12 C1.8,12 0.6,11.4 0,10.2"/></g>
<g class="t"><path transform="translate(762.50,291.50) scale(0.9167,0.9167)" d="M7.8,1.8 C7.2,0.6 6,0 4,0 C1.6,0 0.2,1.1 0.2,3 C0.2,4.8 1.4,5.6 4,6 C6.8,6.4 8,7.2 8,9 C8,10.9 6.6,12 4,12 C2,12 0.6,11.3 0,10"/><path transform="translate(773.80,291.50) scale(0.9167,0.9167)" d="M0,0 L0,8.4 C0,10.8 1.4,12 4,12 C6.6,12 8,10.8 8,8.4 L8,0"/><path transform="translate(785.10,291.50) scale(0.9167,0.9167)" d="M7.8,1.8 C7.2,0.6 6,0 4,0 C1.6,0 0.2,1.1 0.2,3 C0.2,4.8 1.4,5.6 4,6 C6.8,6.4 8,7.2 8,9 C8,10.9 6.6,12 4,12 C2,12 0.6,11.3 0,10"/><path transform="translate(796.40,291.50) scale(0.9167,0.9167)" d="M0.2,2 C0.8,0.6 2,0 3.6,0 C5.8,0 6.8,1.2 6.8,2.9 C6.8,4.6 5.6,5.6 3.2,5.6 C5.8,5.6 7,6.8 7,8.7 C7,10.8 5.6,12 3.5,12 C1.8,12 0.6,11.3 0,10"/><path transform="translate(806.78,291.50) scale(0.9167,0.9167)" d="M4,0 C6.48,0 8,1.52 8,4 L8,8 C8,10.48 6.48,12 4,12 C1.52,12 0,10.48 0,8 L0,4 C0,1.52 1.52,0 4,0 Z"/><path transform="translate(818.08,291.50) scale(0.9167,0.9167)" d="M0.2,2 C0.8,0.6 2,0 3.6,0 C5.8,0 6.8,1.2 6.8,2.9 C6.8,4.6 5.6,5.6 3.2,5.6 C5.8,5.6 7,6.8 7,8.7 C7,10.8 5.6,12 3.5,12 C1.8,12 0.6,11.3 0,10"/></g>
<rect x="755" y="287" width="86" height="1"/>
<path d="M755.5,287.5L680.5,372.5"/>
<path d="M680.50,372.50L687.88,367.01L685.03,364.49Z"/>
<g class="t"><path transform="translate(763.50,327.50) scale(0.9167,0.9167)" d="M3.5,1.8 C5.8,1.8 7,3.7 7,6.4 C7,9.1 5.8,11 3.5,11 C1.2,11 0,9.1 0,6.4 C0,3.7 1.2,1.8 3.5,1.8 Z M1.4,11.6 L6,0.6"/><path transform="translate(774.25,327.50) scale(0.9167,0.9167)" d="M0,2.4 C0.6,0.6 1.8,0 3.4,0 C5.6,0 6.8,1.2 6.8,3.3 C6.8,4.6 6.2,5.5 5.2,6.4 L0,12 L6.8,12"/><rect x="786" y="336" width="1" height="2"/><rect x="785" y="338" width="2" height="1"/><path transform="translate(791.27,327.50) scale(0.9167,0.9167)" d="M0,2.4 C0.6,0.6 1.8,0 3.4,0 C5.6,0 6.8,1.2 6.8,3.3 C6.8,4.6 6.2,5.5 5.2,6.4 L0,12 L6.8,12"/></g>
<rect x="756" y="342" width="52" height="1"/>
<path d="M756.5,342.5L736.5,376.5"/>
<path d="M736.50,376.50L742.70,369.71L739.43,367.78Z"/>
<rect x="671" y="391" width="1" height="59"/>
<rect x="688" y="391" width="1" height="86"/>
<rect x="889" y="387" width="1" height="135"/>
<rect x="654" y="446" width="85" height="1"/>
<rect x="664" y="445" width="2" height="2" style="fill:#fff"/>
<rect x="667" y="445" width="4" height="2"/>
<rect x="663" y="444" width="4" height="1"/>
<rect x="663" y="447" width="4" height="1"/>
<rect x="663" y="444" width="1" height="4"/>
<rect x="666" y="444" width="1" height="1"/>
<rect x="694" y="445" width="2" height="2" style="fill:#fff"/>
<rect x="689" y="445" width="4" height="2"/>
<rect x="693" y="444" width="4" height="1"/>
<rect x="693" y="447" width="4" height="1"/>
<rect x="696" y="444" width="1" height="4"/>
<rect x="693" y="444" width="1" height="1"/>
<g class="t"><path transform="translate(728.50,432.50) scale(0.9167,0.9167)" d="M6.6,0 L0.8,0 L0.4,5 C1.2,4.6 2.2,4.4 3.4,4.4 C5.8,4.4 7,5.8 7,8.1 C7,10.6 5.6,12 3.4,12 C1.8,12 0.6,11.4 0,10.2"/></g>
<rect x="514" y="475" width="175" height="1"/>
<rect x="520" y="474" width="2" height="2" style="fill:#fff"/>
<rect x="515" y="474" width="4" height="2"/>
<rect x="519" y="473" width="4" height="1"/>
<rect x="519" y="476" width="4" height="1"/>
<rect x="522" y="473" width="1" height="4"/>
<rect x="519" y="473" width="1" height="1"/>
<rect x="681" y="474" width="2" height="2" style="fill:#fff"/>
<rect x="684" y="474" width="4" height="2"/>
<rect x="680" y="473" width="4" height="1"/>
<rect x="680" y="476" width="4" height="1"/>
<rect x="680" y="473" width="1" height="4"/>
<rect x="683" y="473" width="1" height="1"/>
<g class="t"><path transform="translate(591.50,460.50) scale(1.0000,1.0000)" d="M6.6,0 L0.8,0 L0.4,5 C1.2,4.6 2.2,4.4 3.4,4.4 C5.8,4.4 7,5.8 7,8.1 C7,10.6 5.6,12 3.4,12 C1.8,12 0.6,11.4 0,10.2"/><path transform="translate(602.50,460.50) scale(1.0000,1.0000)" d="M4,0 C6.48,0 8,1.52 8,4 L8,8 C8,10.48 6.48,12 4,12 C1.52,12 0,10.48 0,8 L0,4 C0,1.52 1.52,0 4,0 Z"/></g>
<rect x="514" y="518" width="376" height="1"/>
<rect x="520" y="517" width="2" height="2" style="fill:#fff"/>
<rect x="515" y="517" width="4" height="2"/>
<rect x="519" y="516" width="4" height="1"/>
<rect x="519" y="519" width="4" height="1"/>
<rect x="522" y="516" width="1" height="4"/>
<rect x="519" y="516" width="1" height="1"/>
<rect x="882" y="517" width="2" height="2" style="fill:#fff"/>
<rect x="885" y="517" width="4" height="2"/>
<rect x="881" y="516" width="4" height="1"/>
<rect x="881" y="519" width="4" height="1"/>
<rect x="881" y="516" width="1" height="4"/>
<rect x="884" y="516" width="1" height="1"/>
<g class="t"><path transform="translate(679.50,504.50) scale(1.0000,1.0000)" d="M0,2.4 C0.6,0.6 1.8,0 3.4,0 C5.6,0 6.8,1.2 6.8,3.3 C6.8,4.6 6.2,5.5 5.2,6.4 L0,12 L6.8,12"/><path transform="translate(689.03,504.50) scale(1.0000,1.0000)" d="M4,0 C6.48,0 8,1.52 8,4 L8,8 C8,10.48 6.48,12 4,12 C1.52,12 0,10.48 0,8 L0,4 C0,1.52 1.52,0 4,0 Z"/><path transform="translate(699.77,504.50) scale(1.0000,1.0000)" d="M4,0 C6.48,0 8,1.52 8,4 L8,8 C8,10.48 6.48,12 4,12 C1.52,12 0,10.48 0,8 L0,4 C0,1.52 1.52,0 4,0 Z"/><path transform="translate(710.50,504.50) scale(1.0000,1.0000)" d="M4,0 C6.48,0 8,1.52 8,4 L8,8 C8,10.48 6.48,12 4,12 C1.52,12 0,10.48 0,8 L0,4 C0,1.52 1.52,0 4,0 Z"/></g>
<g class="t"><path transform="translate(72.50,595.50) scale(0.9167,0.9167)" d="M0,2.4 L3,0 L3,12"/></g>
<g class="t"><path transform="translate(260.50,595.50) scale(0.9167,0.9167)" d="M0,2.4 L3,0 L3,12"/><path transform="translate(268.55,595.50) scale(0.9167,0.9167)" d="M4,0 C6.48,0 8,1.52 8,4 L8,8 C8,10.48 6.48,12 4,12 C1.52,12 0,10.48 0,8 L0,4 C0,1.52 1.52,0 4,0 Z"/><path transform="translate(279.17,595.50) scale(0.9167,0.9167)" d="M4,0 C6.48,0 8,1.52 8,4 L8,8 C8,10.48 6.48,12 4,12 C1.52,12 0,10.48 0,8 L0,4 C0,1.52 1.52,0 4,0 Z"/></g>
<rect x="69" y="610" width="379" height="1"/>
<rect x="88" y="609" width="2" height="2" style="fill:#fff"/>
<rect x="91" y="609" width="4" height="2"/>
<rect x="87" y="608" width="4" height="1"/>
<rect x="87" y="611" width="4" height="1"/>
<rect x="87" y="608" width="1" height="4"/>
<rect x="90" y="608" width="1" height="1"/>
<rect x="105" y="609" width="2" height="2" style="fill:#fff"/>
<rect x="100" y="609" width="4" height="2"/>
<rect x="104" y="608" width="4" height="1"/>
<rect x="104" y="611" width="4" height="1"/>
<rect x="107" y="608" width="1" height="4"/>
<rect x="104" y="608" width="1" height="1"/>
<rect x="440" y="609" width="2" height="2" style="fill:#fff"/>
<rect x="443" y="609" width="4" height="2"/>
<rect x="439" y="608" width="4" height="1"/>
<rect x="439" y="611" width="4" height="1"/>
<rect x="439" y="608" width="1" height="4"/>
<rect x="442" y="608" width="1" height="1"/>
<rect x="95" y="607" width="1" height="50"/>
<rect x="99" y="607" width="1" height="38"/>
<rect x="447" y="607" width="1" height="38"/>
<rect x="59" y="623" width="1" height="51"/>
<rect x="57" y="639" width="37" height="1"/>
<rect x="57" y="656" width="37" height="1"/>
<rect x="58" y="632" width="2" height="3" style="fill:#fff"/>
<rect x="58" y="636" width="2" height="3"/>
<rect x="57" y="631" width="1" height="5"/>
<rect x="60" y="631" width="1" height="5"/>
<rect x="57" y="631" width="4" height="1"/>
<rect x="57" y="635" width="1" height="1"/>
<rect x="58" y="661" width="2" height="3" style="fill:#fff"/>
<rect x="58" y="657" width="2" height="3"/>
<rect x="57" y="660" width="1" height="5"/>
<rect x="60" y="660" width="1" height="5"/>
<rect x="57" y="664" width="4" height="1"/>
<rect x="57" y="660" width="1" height="1"/>
<g class="t"><path transform="translate(45.50,652.50) rotate(-90) scale(1.0000,1.0000)" d="M6.6,0 L0.8,0 L0.4,5 C1.2,4.6 2.2,4.4 3.4,4.4 C5.8,4.4 7,5.8 7,8.1 C7,10.6 5.6,12 3.4,12 C1.8,12 0.6,11.4 0,10.2"/></g>
<rect x="95" y="639" width="419" height="1"/>
<path d="M513.5,639.5L514.5,640.5"/>
<rect x="514" y="640" width="1" height="17"/>
<rect x="95" y="656" width="397" height="1"/>
<rect x="493" y="656" width="22" height="1"/>
<rect x="99" y="642" width="378" height="1"/>
<path d="M476.5,642.5L478.5,644.5"/>
<rect x="478" y="644" width="1" height="11"/>
<rect x="99" y="654" width="380" height="1"/>
<path d="M99.5,642.5Q96.5,643.5 96.5,646.5L96.5,650.5Q96.5,653.5 99.5,654.5"/>
<rect x="99" y="647" width="2" height="2"/>
<rect x="111" y="647" width="2" height="2"/>
<rect x="123" y="647" width="2" height="2"/>
<rect x="135" y="647" width="2" height="2"/>
<rect x="147" y="647" width="2" height="2"/>
<rect x="159" y="647" width="2" height="2"/>
<rect x="171" y="647" width="2" height="2"/>
<rect x="183" y="647" width="2" height="2"/>
<rect x="195" y="647" width="2" height="2"/>
<rect x="207" y="647" width="2" height="2"/>
<rect x="219" y="648" width="2" height="1"/>
<rect x="220" y="647" width="1" height="1"/>
<rect x="231" y="648" width="2" height="1"/>
<rect x="232" y="647" width="1" height="1"/>
<rect x="243" y="648" width="2" height="1"/>
<rect x="244" y="647" width="1" height="1"/>
<rect x="255" y="648" width="2" height="1"/>
<rect x="256" y="647" width="1" height="1"/>
<rect x="267" y="648" width="2" height="1"/>
<rect x="268" y="647" width="1" height="1"/>
<rect x="279" y="648" width="2" height="1"/>
<rect x="280" y="647" width="1" height="1"/>
<rect x="291" y="648" width="2" height="1"/>
<rect x="291" y="647" width="1" height="1"/>
<rect x="303" y="648" width="2" height="1"/>
<rect x="303" y="647" width="1" height="1"/>
<rect x="315" y="648" width="2" height="1"/>
<rect x="315" y="647" width="1" height="1"/>
<rect x="327" y="648" width="2" height="1"/>
<rect x="327" y="647" width="1" height="1"/>
<rect x="339" y="648" width="2" height="1"/>
<rect x="339" y="647" width="1" height="1"/>
<rect x="351" y="648" width="2" height="1"/>
<rect x="351" y="647" width="1" height="1"/>
<rect x="363" y="647" width="2" height="2"/>
<rect x="375" y="647" width="2" height="2"/>
<rect x="387" y="647" width="2" height="2"/>
<rect x="399" y="647" width="2" height="2"/>
<rect x="411" y="647" width="2" height="2"/>
<rect x="423" y="647" width="2" height="2"/>
<rect x="435" y="647" width="2" height="2"/>
<rect x="447" y="647" width="2" height="2"/>
<rect x="514" y="642" width="158" height="1"/>
<rect x="514" y="654" width="158" height="1"/>
<path class="f" d="M515,649h1v1h-1zM516,648h1v1h-1zM516,650h1v1h-1zM517,643h1v1h-1zM517,647h1v1h-1zM517,651h1v1h-1zM518,644h1v1h-1zM518,646h1v1h-1zM518,652h1v1h-1zM519,645h1v1h-1zM519,653h1v1h-1zM520,644h1v1h-1zM520,646h1v1h-1zM520,652h1v1h-1zM521,643h1v1h-1zM521,647h1v1h-1zM521,651h1v1h-1zM522,648h1v1h-1zM522,650h1v1h-1zM523,649h1v1h-1zM524,648h1v1h-1zM524,650h1v1h-1zM525,643h1v1h-1zM525,647h1v1h-1zM525,651h1v1h-1zM526,644h1v1h-1zM526,646h1v1h-1zM526,652h1v1h-1zM527,645h1v1h-1zM527,653h1v1h-1zM528,644h1v1h-1zM528,646h1v1h-1zM528,652h1v1h-1zM529,643h1v1h-1zM529,647h1v1h-1zM529,651h1v1h-1zM530,648h1v1h-1zM530,650h1v1h-1zM531,649h1v1h-1zM532,648h1v1h-1zM532,650h1v1h-1zM533,643h1v1h-1zM533,647h1v1h-1zM533,651h1v1h-1zM534,644h1v1h-1zM534,646h1v1h-1zM534,652h1v1h-1zM534,653h1v1h-1zM535,645h1v1h-1zM535,652h1v1h-1zM535,653h1v1h-1zM536,644h1v1h-1zM536,646h1v1h-1zM536,651h1v1h-1zM537,643h1v1h-1zM537,647h1v1h-1zM537,650h1v1h-1zM538,648h1v1h-1zM538,649h1v1h-1zM539,648h1v1h-1zM539,649h1v1h-1zM540,643h1v1h-1zM540,647h1v1h-1zM540,650h1v1h-1zM541,644h1v1h-1zM541,646h1v1h-1zM541,651h1v1h-1zM542,645h1v1h-1zM542,652h1v1h-1zM542,653h1v1h-1zM543,644h1v1h-1zM543,646h1v1h-1zM543,652h1v1h-1zM543,653h1v1h-1zM544,643h1v1h-1zM544,647h1v1h-1zM544,651h1v1h-1zM545,648h1v1h-1zM545,650h1v1h-1zM546,649h1v1h-1zM547,648h1v1h-1zM547,650h1v1h-1zM548,643h1v1h-1zM548,647h1v1h-1zM548,651h1v1h-1zM549,644h1v1h-1zM549,646h1v1h-1zM549,652h1v1h-1zM550,645h1v1h-1zM550,653h1v1h-1zM551,644h1v1h-1zM551,646h1v1h-1zM551,652h1v1h-1zM552,643h1v1h-1zM552,647h1v1h-1zM552,651h1v1h-1zM553,648h1v1h-1zM553,650h1v1h-1zM554,649h1v1h-1zM555,648h1v1h-1zM555,650h1v1h-1zM556,643h1v1h-1zM556,647h1v1h-1zM556,651h1v1h-1zM557,644h1v1h-1zM557,646h1v1h-1zM557,652h1v1h-1zM558,645h1v1h-1zM558,653h1v1h-1zM559,644h1v1h-1zM559,646h1v1h-1zM559,652h1v1h-1zM560,643h1v1h-1zM560,647h1v1h-1zM560,651h1v1h-1zM561,648h1v1h-1zM561,650h1v1h-1zM562,649h1v1h-1zM563,648h1v1h-1zM563,650h1v1h-1zM564,643h1v1h-1zM564,647h1v1h-1zM564,651h1v1h-1zM565,644h1v1h-1zM565,646h1v1h-1zM565,652h1v1h-1zM565,653h1v1h-1zM566,645h1v1h-1zM566,652h1v1h-1zM566,653h1v1h-1zM567,644h1v1h-1zM567,646h1v1h-1zM567,651h1v1h-1zM568,643h1v1h-1zM568,647h1v1h-1zM568,650h1v1h-1zM569,648h1v1h-1zM569,649h1v1h-1zM570,648h1v1h-1zM570,649h1v1h-1zM571,643h1v1h-1zM571,647h1v1h-1zM571,650h1v1h-1zM572,644h1v1h-1zM572,646h1v1h-1zM572,651h1v1h-1zM573,645h1v1h-1zM573,652h1v1h-1zM573,653h1v1h-1zM574,644h1v1h-1zM574,646h1v1h-1zM574,652h1v1h-1zM574,653h1v1h-1zM575,643h1v1h-1zM575,647h1v1h-1zM575,651h1v1h-1zM576,648h1v1h-1zM576,650h1v1h-1zM577,649h1v1h-1zM578,648h1v1h-1zM578,650h1v1h-1zM579,643h1v1h-1zM579,647h1v1h-1zM579,651h1v1h-1zM580,644h1v1h-1zM580,646h1v1h-1zM580,652h1v1h-1zM581,645h1v1h-1zM581,653h1v1h-1zM582,644h1v1h-1zM582,646h1v1h-1zM582,652h1v1h-1zM583,643h1v1h-1zM583,647h1v1h-1zM583,651h1v1h-1zM584,648h1v1h-1zM584,650h1v1h-1zM585,649h1v1h-1zM586,648h1v1h-1zM586,650h1v1h-1zM587,643h1v1h-1zM587,647h1v1h-1zM587,651h1v1h-1zM588,644h1v1h-1zM588,646h1v1h-1zM588,652h1v1h-1zM589,645h1v1h-1zM589,653h1v1h-1zM590,644h1v1h-1zM590,646h1v1h-1zM590,652h1v1h-1zM591,643h1v1h-1zM591,647h1v1h-1zM591,651h1v1h-1zM592,648h1v1h-1zM592,650h1v1h-1zM593,649h1v1h-1zM594,648h1v1h-1zM594,650h1v1h-1zM595,643h1v1h-1zM595,647h1v1h-1zM595,651h1v1h-1zM596,644h1v1h-1zM596,646h1v1h-1zM596,652h1v1h-1zM596,653h1v1h-1zM597,645h1v1h-1zM597,652h1v1h-1zM597,653h1v1h-1zM598,644h1v1h-1zM598,646h1v1h-1zM598,651h1v1h-1zM599,643h1v1h-1zM599,647h1v1h-1zM599,650h1v1h-1zM600,648h1v1h-1zM600,649h1v1h-1zM601,648h1v1h-1zM601,649h1v1h-1zM602,643h1v1h-1zM602,647h1v1h-1zM602,650h1v1h-1zM603,644h1v1h-1zM603,646h1v1h-1zM603,651h1v1h-1zM604,645h1v1h-1zM604,652h1v1h-1zM604,653h1v1h-1zM605,644h1v1h-1zM605,646h1v1h-1zM605,652h1v1h-1zM605,653h1v1h-1zM606,643h1v1h-1zM606,647h1v1h-1zM606,651h1v1h-1zM607,648h1v1h-1zM607,650h1v1h-1zM608,649h1v1h-1zM609,648h1v1h-1zM609,650h1v1h-1zM610,643h1v1h-1zM610,647h1v1h-1zM610,651h1v1h-1zM611,644h1v1h-1zM611,646h1v1h-1zM611,652h1v1h-1zM612,645h1v1h-1zM612,653h1v1h-1zM613,644h1v1h-1zM613,646h1v1h-1zM613,652h1v1h-1zM614,643h1v1h-1zM614,647h1v1h-1zM614,651h1v1h-1zM615,648h1v1h-1zM615,650h1v1h-1zM616,649h1v1h-1zM617,648h1v1h-1zM617,650h1v1h-1zM618,643h1v1h-1zM618,647h1v1h-1zM618,651h1v1h-1zM619,644h1v1h-1zM619,646h1v1h-1zM619,652h1v1h-1zM620,645h1v1h-1zM620,653h1v1h-1zM621,644h1v1h-1zM621,646h1v1h-1zM621,652h1v1h-1zM622,643h1v1h-1zM622,647h1v1h-1zM622,651h1v1h-1zM623,648h1v1h-1zM623,650h1v1h-1zM624,649h1v1h-1zM625,648h1v1h-1zM625,650h1v1h-1zM626,643h1v1h-1zM626,647h1v1h-1zM626,651h1v1h-1zM627,644h1v1h-1zM627,646h1v1h-1zM627,652h1v1h-1zM627,653h1v1h-1zM628,645h1v1h-1zM628,652h1v1h-1zM628,653h1v1h-1zM629,644h1v1h-1zM629,646h1v1h-1zM629,651h1v1h-1zM630,643h1v1h-1zM630,647h1v1h-1zM630,650h1v1h-1zM631,648h1v1h-1zM631,649h1v1h-1zM632,648h1v1h-1zM632,649h1v1h-1zM633,643h1v1h-1zM633,647h1v1h-1zM633,650h1v1h-1zM634,644h1v1h-1zM634,646h1v1h-1zM634,651h1v1h-1zM635,645h1v1h-1zM635,652h1v1h-1zM635,653h1v1h-1zM636,644h1v1h-1zM636,646h1v1h-1zM636,652h1v1h-1zM636,653h1v1h-1zM637,643h1v1h-1zM637,647h1v1h-1zM637,651h1v1h-1zM638,648h1v1h-1zM638,650h1v1h-1zM639,649h1v1h-1zM640,648h1v1h-1zM640,650h1v1h-1zM641,643h1v1h-1zM641,647h1v1h-1zM641,651h1v1h-1zM642,644h1v1h-1zM642,646h1v1h-1zM642,652h1v1h-1zM643,645h1v1h-1zM643,653h1v1h-1zM644,644h1v1h-1zM644,646h1v1h-1zM644,652h1v1h-1zM645,643h1v1h-1zM645,647h1v1h-1zM645,651h1v1h-1zM646,648h1v1h-1zM646,650h1v1h-1zM647,649h1v1h-1zM648,648h1v1h-1zM648,650h1v1h-1zM649,643h1v1h-1zM649,647h1v1h-1zM649,651h1v1h-1zM650,644h1v1h-1zM650,646h1v1h-1zM650,652h1v1h-1zM651,645h1v1h-1zM651,653h1v1h-1zM652,644h1v1h-1zM652,646h1v1h-1zM652,652h1v1h-1zM653,643h1v1h-1zM653,647h1v1h-1zM653,651h1v1h-1zM654,648h1v1h-1zM654,650h1v1h-1zM655,649h1v1h-1zM656,648h1v1h-1zM656,650h1v1h-1zM657,643h1v1h-1zM657,647h1v1h-1zM657,651h1v1h-1zM658,644h1v1h-1zM658,646h1v1h-1zM658,652h1v1h-1zM658,653h1v1h-1zM659,645h1v1h-1zM659,652h1v1h-1zM659,653h1v1h-1zM660,644h1v1h-1zM660,646h1v1h-1zM660,651h1v1h-1zM661,643h1v1h-1zM661,647h1v1h-1zM661,650h1v1h-1zM662,648h1v1h-1zM662,649h1v1h-1zM663,648h1v1h-1zM663,649h1v1h-1zM664,643h1v1h-1zM664,647h1v1h-1zM664,650h1v1h-1zM665,644h1v1h-1zM665,646h1v1h-1zM665,651h1v1h-1zM666,645h1v1h-1zM666,652h1v1h-1zM666,653h1v1h-1zM667,644h1v1h-1zM667,646h1v1h-1zM667,652h1v1h-1zM667,653h1v1h-1zM668,643h1v1h-1zM668,647h1v1h-1zM668,651h1v1h-1zM669,648h1v1h-1zM669,650h1v1h-1zM670,649h1v1h-1z"/>
<rect x="671" y="640" width="18" height="1"/>
<rect x="671" y="656" width="18" height="1"/>
<rect x="671" y="640" width="1" height="17"/>
<rect x="688" y="640" width="1" height="17"/>
<rect x="688" y="644" width="96" height="1"/>
<rect x="786" y="644" width="104" height="1"/>
<rect x="688" y="652" width="97" height="1"/>
<rect x="788" y="652" width="102" height="1"/>
<rect x="889" y="644" width="1" height="9"/>
<path d="M783.5,644.5L784.5,646.5L784.5,647.5L782.5,649.5L781.5,651.5"/>
<path d="M786.5,644.5L786.5,647.5L785.5,649.5L784.5,651.5"/>
<path d="M786.5,644.5L787.5,644.5L788.5,646.5L787.5,648.5"/>
<path d="M184.5,656.5L200.5,693.5"/>
<path d="M184.50,656.50L186.33,665.51L189.82,664.01Z"/>
<rect x="200" y="693" width="145" height="1"/>
<g class="t"><path transform="translate(206.50,677.50) scale(1.0000,1.0000)" d="M0,0 L0,12 L3.8,12 C6.8,12 8.2,10.2 8.2,7.4 L8.2,4.6 C8.2,1.8 6.8,0 3.8,0 Z"/><path transform="translate(217.80,677.50) scale(1.0000,1.0000)" d="M0,8.2 L6.6,8.2 C6.6,5.6 5.4,4.4 3.3,4.4 C1,4.4 0,5.8 0,8.2 C0,10.8 1,12 3.3,12 C4.8,12 5.8,11.6 6.4,10.6"/><path transform="translate(227.50,677.50) scale(1.0000,1.0000)" d="M2,0.4 L2,10.6 C2,11.5 2.5,12 3.3,12 L4.4,12 M0,4.4 L4.2,4.4"/><path transform="translate(235.00,677.50) scale(1.0000,1.0000)" d="M0,8.2 L6.6,8.2 C6.6,5.6 5.4,4.4 3.3,4.4 C1,4.4 0,5.8 0,8.2 C0,10.8 1,12 3.3,12 C4.8,12 5.8,11.6 6.4,10.6"/><path transform="translate(244.70,677.50) scale(1.0000,1.0000)" d="M6.2,4.86 C5.42,4.4 4.03,4.4 3.1,4.4 C0.93,4.4 0,5.54 0,8.2 C0,10.86 0.93,12 3.1,12 C4.03,12 5.42,12 6.2,11.54"/><path transform="translate(254.00,677.50) scale(1.0000,1.0000)" d="M2,0.4 L2,10.6 C2,11.5 2.5,12 3.3,12 L4.4,12 M0,4.4 L4.2,4.4"/><path transform="translate(261.90,677.50) scale(1.0000,1.0000)" d="M0,4.4 L0,12 M-0.6,1.6 L0,1 L0.6,1.6"/><path transform="translate(265.40,677.50) scale(1.0000,1.0000)" d="M3.5,4.4 C5.81,4.4 7,5.59 7,7.9 L7,8.5 C7,10.81 5.81,12 3.5,12 C1.19,12 0,10.81 0,8.5 L0,7.9 C0,5.59 1.19,4.4 3.5,4.4 Z"/><path transform="translate(275.50,677.50) scale(1.0000,1.0000)" d="M0,4.4 L0,12 M0,6.2 C0.6,4.8 1.98,4.4 3.3,4.4 C5.61,4.4 6.6,5.2 6.6,6.8 L6.6,12"/><path transform="translate(294.80,677.50) scale(1.0000,1.0000)" d="M6.6,4.4 L6.6,12 M6.6,6.2 C5.8,4.8 4.62,4.4 3.3,4.4 C0.79,4.4 0,5.8 0,8.2 C0,10.6 0.79,12 3.3,12 C4.62,12 5.8,11.6 6.6,10.2"/><path transform="translate(304.50,677.50) scale(1.0000,1.0000)" d="M0,4.4 L0,12 M0,7 C0.6,5.2 1.8,4.4 3.2,4.4 C3.8,4.4 4.3,4.5 4.6,4.7"/><path transform="translate(312.20,677.50) scale(1.0000,1.0000)" d="M0,8.2 L6.6,8.2 C6.6,5.6 5.4,4.4 3.3,4.4 C1,4.4 0,5.8 0,8.2 C0,10.8 1,12 3.3,12 C4.8,12 5.8,11.6 6.4,10.6"/><path transform="translate(321.90,677.50) scale(1.0000,1.0000)" d="M6.6,4.4 L6.6,12 M6.6,6.2 C5.8,4.8 4.62,4.4 3.3,4.4 C0.79,4.4 0,5.8 0,8.2 C0,10.6 0.79,12 3.3,12 C4.62,12 5.8,11.6 6.6,10.2"/></g>
<g class="t"><path transform="translate(82.50,787.50) scale(1.1667,1.1667)" d="M8.6,2 C7.8,0.6 6.6,0 4.8,0 C1.6,0 0,2 0,5 L0,7 C0,10 1.6,12 4.8,12 C6.6,12 7.8,11.4 8.6,10"/><path transform="translate(97.18,787.50) scale(1.1667,1.1667)" d="M6.6,4.4 L6.6,12 M6.6,6.2 C5.8,4.8 4.62,4.4 3.3,4.4 C0.79,4.4 0,5.8 0,8.2 C0,10.6 0.79,12 3.3,12 C4.62,12 5.8,11.6 6.6,10.2"/><path transform="translate(109.53,787.50) scale(1.1667,1.1667)" d="M5.7,5.6 C5.2,4.7 4.3,4.4 3,4.4 C1.2,4.4 0.2,5.1 0.2,6.3 C0.2,7.6 1.2,8 3,8.3 C4.9,8.6 5.9,9.2 5.9,10.3 C5.9,11.3 4.8,12 3,12 C1.6,12 0.6,11.6 0,10.8"/><path transform="translate(121.06,787.50) scale(1.1667,1.1667)" d="M0,8.2 L6.6,8.2 C6.6,5.6 5.4,4.4 3.3,4.4 C1,4.4 0,5.8 0,8.2 C0,10.8 1,12 3.3,12 C4.8,12 5.8,11.6 6.4,10.6"/><path transform="translate(145.64,787.50) scale(1.1667,1.1667)" d="M0,4.4 L0,12 M0,6.2 C0.6,4.8 1.89,4.4 3.15,4.4 C5.35,4.4 6.3,5.2 6.3,6.8 L6.3,12 M6.3,6.2 C6.9,4.8 8.19,4.4 9.45,4.4 C11.65,4.4 12.6,5.2 12.6,6.8 L12.6,12"/><path transform="translate(164.99,787.50) scale(1.1667,1.1667)" d="M6.6,4.4 L6.6,12 M6.6,6.2 C5.8,4.8 4.62,4.4 3.3,4.4 C0.79,4.4 0,5.8 0,8.2 C0,10.6 0.79,12 3.3,12 C4.62,12 5.8,11.6 6.6,10.2"/><path transform="translate(177.34,787.50) scale(1.1667,1.1667)" d="M2,0.4 L2,10.6 C2,11.5 2.5,12 3.3,12 L4.4,12 M0,4.4 L4.2,4.4"/><path transform="translate(187.12,787.50) scale(1.1667,1.1667)" d="M0,8.2 L6.6,8.2 C6.6,5.6 5.4,4.4 3.3,4.4 C1,4.4 0,5.8 0,8.2 C0,10.8 1,12 3.3,12 C4.8,12 5.8,11.6 6.4,10.6"/><path transform="translate(199.47,787.50) scale(1.1667,1.1667)" d="M0,4.4 L0,12 M0,7 C0.6,5.2 1.8,4.4 3.2,4.4 C3.8,4.4 4.3,4.5 4.6,4.7"/><path transform="translate(209.95,787.50) scale(1.1667,1.1667)" d="M0,4.4 L0,12 M-0.6,1.6 L0,1 L0.6,1.6"/><path transform="translate(215.07,787.50) scale(1.1667,1.1667)" d="M6.6,4.4 L6.6,12 M6.6,6.2 C5.8,4.8 4.62,4.4 3.3,4.4 C0.79,4.4 0,5.8 0,8.2 C0,10.6 0.79,12 3.3,12 C4.62,12 5.8,11.6 6.6,10.2"/><path transform="translate(227.88,787.50) scale(1.1667,1.1667)" d="M0,0 L0,12"/><path transform="translate(246.39,787.50) scale(1.1667,1.1667)" d="M0,5.6 L0.5,5 L1,5.6 M0,11.4 L0.5,12 L1,11.4"/><path transform="translate(267.94,787.50) scale(1.1667,1.1667)" d="M0.2,0 L7.7,0 L0,12 L7.7,12"/><path transform="translate(282.04,787.50) scale(1.1667,1.1667)" d="M0,4.4 L0,12 M-0.6,1.6 L0,1 L0.6,1.6"/><path transform="translate(287.15,787.50) scale(1.1667,1.1667)" d="M0,4.4 L0,12 M0,6.2 C0.6,4.8 1.98,4.4 3.3,4.4 C5.61,4.4 6.6,5.2 6.6,6.8 L6.6,12"/><path transform="translate(299.50,787.50) scale(1.1667,1.1667)" d="M6.2,4.86 C5.42,4.4 4.03,4.4 3.1,4.4 C0.93,4.4 0,5.54 0,8.2 C0,10.86 0.93,12 3.1,12 C4.03,12 5.42,12 6.2,11.54"/><path transform="translate(323.62,787.50) scale(1.1667,1.1667)" d="M6.8,0 L6.8,12 M6.8,6.2 C6,4.8 4.76,4.4 3.4,4.4 C0.82,4.4 0,5.8 0,8.2 C0,10.6 0.82,12 3.4,12 C4.76,12 6,11.6 6.8,10.2"/><path transform="translate(336.66,787.50) scale(1.1667,1.1667)" d="M0,4.4 L0,12 M-0.6,1.6 L0,1 L0.6,1.6"/><path transform="translate(341.78,787.50) scale(1.1667,1.1667)" d="M0,8.2 L6.6,8.2 C6.6,5.6 5.4,4.4 3.3,4.4 C1,4.4 0,5.8 0,8.2 C0,10.8 1,12 3.3,12 C4.8,12 5.8,11.6 6.4,10.6"/><path transform="translate(354.13,787.50) scale(1.1667,1.1667)" d="M0,6.4 L9.6,6.4"/><path transform="translate(369.98,787.50) scale(1.1667,1.1667)" d="M6.2,4.86 C5.42,4.4 4.03,4.4 3.1,4.4 C0.93,4.4 0,5.54 0,8.2 C0,10.86 0.93,12 3.1,12 C4.03,12 5.42,12 6.2,11.54"/><path transform="translate(381.86,787.50) scale(1.1667,1.1667)" d="M6.6,4.4 L6.6,12 M6.6,6.2 C5.8,4.8 4.62,4.4 3.3,4.4 C0.79,4.4 0,5.8 0,8.2 C0,10.6 0.79,12 3.3,12 C4.62,12 5.8,11.6 6.6,10.2"/><path transform="translate(394.21,787.50) scale(1.1667,1.1667)" d="M5.7,5.6 C5.2,4.7 4.3,4.4 3,4.4 C1.2,4.4 0.2,5.1 0.2,6.3 C0.2,7.6 1.2,8 3,8.3 C4.9,8.6 5.9,9.2 5.9,10.3 C5.9,11.3 4.8,12 3,12 C1.6,12 0.6,11.6 0,10.8"/><path transform="translate(405.74,787.50) scale(1.1667,1.1667)" d="M2,0.4 L2,10.6 C2,11.5 2.5,12 3.3,12 L4.4,12 M0,4.4 L4.2,4.4"/><path transform="translate(415.99,787.50) scale(1.1667,1.1667)" d="M0,4.4 L0,12 M-0.6,1.6 L0,1 L0.6,1.6"/><path transform="translate(421.10,787.50) scale(1.1667,1.1667)" d="M0,4.4 L0,12 M0,6.2 C0.6,4.8 1.98,4.4 3.3,4.4 C5.61,4.4 6.6,5.2 6.6,6.8 L6.6,12"/><path transform="translate(433.45,787.50) scale(1.1667,1.1667)" d="M6.9,4.4 L6.9,13.8 C6.9,15.3 6,16 4.2,16 L2.4,16 C1.5,16 0.9,15.7 0.5,15.1 M6.9,6.2 C6.1,4.8 4.83,4.4 3.45,4.4 C0.83,4.4 0,5.8 0,8.2 C0,10.6 0.83,12 3.45,12 C4.83,12 6.1,11.6 6.9,10.2"/></g>
<g class="t"><path transform="translate(548.50,787.50) scale(1.1667,1.1667)" d="M3,0.4 L3,7 M0,2 L6,5.4 M6,2 L0,5.4"/><path transform="translate(560.04,787.50) scale(1.1667,1.1667)" d="M7.8,1.8 C7.2,0.6 6,0 4,0 C1.6,0 0.2,1.1 0.2,3 C0.2,4.8 1.4,5.6 4,6 C6.8,6.4 8,7.2 8,9 C8,10.9 6.6,12 4,12 C2,12 0.6,11.3 0,10"/><path transform="translate(573.92,787.50) scale(1.1667,1.1667)" d="M0,4.4 L0,9.6 C0,11.2 0.9,12 2.8,12 C4.6,12 5.8,11.2 6.4,9.8 M6.4,4.4 L6.4,12"/><path transform="translate(585.93,787.50) scale(1.1667,1.1667)" d="M0,4.4 L0,16 M0,6.2 C0.8,4.8 2.04,4.4 3.4,4.4 C5.98,4.4 6.8,5.8 6.8,8.2 C6.8,10.6 5.98,12 3.4,12 C2.04,12 0.8,11.6 0,10.2"/><path transform="translate(598.40,787.50) scale(1.1667,1.1667)" d="M0,4.4 L0,16 M0,6.2 C0.8,4.8 2.04,4.4 3.4,4.4 C5.98,4.4 6.8,5.8 6.8,8.2 C6.8,10.6 5.98,12 3.4,12 C2.04,12 0.8,11.6 0,10.2"/><path transform="translate(611.34,787.50) scale(1.1667,1.1667)" d="M0,0 L0,12"/><path transform="translate(616.82,787.50) scale(1.1667,1.1667)" d="M0,4.4 L0,12 M-0.6,1.6 L0,1 L0.6,1.6"/><path transform="translate(621.83,787.50) scale(1.1667,1.1667)" d="M0,8.2 L6.6,8.2 C6.6,5.6 5.4,4.4 3.3,4.4 C1,4.4 0,5.8 0,8.2 C0,10.8 1,12 3.3,12 C4.8,12 5.8,11.6 6.4,10.6"/><path transform="translate(634.07,787.50) scale(1.1667,1.1667)" d="M6.8,0 L6.8,12 M6.8,6.2 C6,4.8 4.76,4.4 3.4,4.4 C0.82,4.4 0,5.8 0,8.2 C0,10.6 0.82,12 3.4,12 C4.76,12 6,11.6 6.8,10.2"/><path transform="translate(658.67,787.50) scale(1.1667,1.1667)" d="M5.7,5.6 C5.2,4.7 4.3,4.4 3,4.4 C1.2,4.4 0.2,5.1 0.2,6.3 C0.2,7.6 1.2,8 3,8.3 C4.9,8.6 5.9,9.2 5.9,10.3 C5.9,11.3 4.8,12 3,12 C1.6,12 0.6,11.6 0,10.8"/><path transform="translate(670.10,787.50) scale(1.1667,1.1667)" d="M6.2,4.86 C5.42,4.4 4.03,4.4 3.1,4.4 C0.93,4.4 0,5.54 0,8.2 C0,10.86 0.93,12 3.1,12 C4.03,12 5.42,12 6.2,11.54"/><path transform="translate(681.87,787.50) scale(1.1667,1.1667)" d="M0,4.4 L0,12 M0,7 C0.6,5.2 1.8,4.4 3.2,4.4 C3.8,4.4 4.3,4.5 4.6,4.7"/><path transform="translate(691.78,787.50) scale(1.1667,1.1667)" d="M0,8.2 L6.6,8.2 C6.6,5.6 5.4,4.4 3.3,4.4 C1,4.4 0,5.8 0,8.2 C0,10.8 1,12 3.3,12 C4.8,12 5.8,11.6 6.4,10.6"/><path transform="translate(704.02,787.50) scale(1.1667,1.1667)" d="M0,4.4 L2.2,12 L4.5,5.6 L6.8,12 L9,4.4"/><path transform="translate(731.19,787.50) scale(1.1667,1.1667)" d="M3.4,-1.8 C1.2,1 0,3.5 0,6 C0,8.5 1.2,11 3.4,13.8"/><path transform="translate(739.70,787.50) scale(1.1667,1.1667)" d="M0,12 L0,0 L4.9,12 L9.8,0 L9.8,12"/><path transform="translate(755.67,787.50) scale(1.1667,1.1667)" d="M5.8,12 L5.8,0 L0,8.4 L7.6,8.4"/><path transform="translate(769.55,787.50) scale(1.1667,1.1667)" d="M1.2,10.8 L1.2,12.2 L0,13.8"/><path transform="translate(776.31,787.50) scale(1.1667,1.1667)" d="M0,0 L0,12 L6.8,12"/><path transform="translate(788.78,787.50) scale(1.1667,1.1667)" d="M0,5 L9,5 M0,8.7 L9,8.7"/><path transform="translate(803.82,787.50) scale(1.1667,1.1667)" d="M3.5,5.6 C1.6,5.6 0.4,4.6 0.4,2.8 C0.4,1 1.6,0 3.5,0 C5.4,0 6.6,1 6.6,2.8 C6.6,4.6 5.4,5.6 3.5,5.6 C1.4,5.6 0,6.8 0,8.8 C0,10.8 1.4,12 3.5,12 C5.6,12 7,10.8 7,8.8 C7,6.8 5.6,5.6 3.5,5.6 Z"/><path transform="translate(816.53,787.50) scale(1.1667,1.1667)" d="M0,-1.8 C2.2,1 3.4,3.5 3.4,6 C3.4,8.5 2.2,11 0,13.8"/></g>
<g class="t"><path transform="translate(83.50,906.50) scale(1.1667,1.1667)" d="M0,0 L0,12 L3.8,12 C6.8,12 8.2,10.2 8.2,7.4 L8.2,4.6 C8.2,1.8 6.8,0 3.8,0 Z"/><path transform="translate(97.40,906.50) scale(1.1667,1.1667)" d="M0,8.2 L6.6,8.2 C6.6,5.6 5.4,4.4 3.3,4.4 C1,4.4 0,5.8 0,8.2 C0,10.8 1,12 3.3,12 C4.8,12 5.8,11.6 6.4,10.6"/><path transform="translate(109.44,906.50) scale(1.1667,1.1667)" d="M2,0.4 L2,10.6 C2,11.5 2.5,12 3.3,12 L4.4,12 M0,4.4 L4.2,4.4"/><path transform="translate(118.91,906.50) scale(1.1667,1.1667)" d="M6.6,4.4 L6.6,12 M6.6,6.2 C5.8,4.8 4.62,4.4 3.3,4.4 C0.79,4.4 0,5.8 0,8.2 C0,10.6 0.79,12 3.3,12 C4.62,12 5.8,11.6 6.6,10.2"/><path transform="translate(131.42,906.50) scale(1.1667,1.1667)" d="M0,0 L0,12"/><path transform="translate(136.69,906.50) scale(1.1667,1.1667)" d="M0,0 L0,12"/><path transform="translate(153.41,906.50) scale(1.1667,1.1667)" d="M3.5,4.4 C5.81,4.4 7,5.59 7,7.9 L7,8.5 C7,10.81 5.81,12 3.5,12 C1.19,12 0,10.81 0,8.5 L0,7.9 C0,5.59 1.19,4.4 3.5,4.4 Z"/><path transform="translate(165.92,906.50) scale(1.1667,1.1667)" d="M4.5,0.3 C4.1,0.1 3.6,0 3.1,0 C2,0 1.5,0.7 1.5,2 L1.5,12 M0,4.4 L4.2,4.4"/><path transform="translate(187.43,906.50) scale(1.1667,1.1667)" d="M6.8,0 L6.8,12 M6.8,6.2 C6,4.8 4.76,4.4 3.4,4.4 C0.82,4.4 0,5.8 0,8.2 C0,10.6 0.82,12 3.4,12 C4.76,12 6,11.6 6.8,10.2"/><path transform="translate(199.70,906.50) scale(1.1667,1.1667)" d="M0,8.2 L6.6,8.2 C6.6,5.6 5.4,4.4 3.3,4.4 C1,4.4 0,5.8 0,8.2 C0,10.8 1,12 3.3,12 C4.8,12 5.8,11.6 6.4,10.6"/><path transform="translate(211.74,906.50) scale(1.1667,1.1667)" d="M2,0.4 L2,10.6 C2,11.5 2.5,12 3.3,12 L4.4,12 M0,4.4 L4.2,4.4"/><path transform="translate(221.21,906.50) scale(1.1667,1.1667)" d="M0,8.2 L6.6,8.2 C6.6,5.6 5.4,4.4 3.3,4.4 C1,4.4 0,5.8 0,8.2 C0,10.8 1,12 3.3,12 C4.8,12 5.8,11.6 6.4,10.6"/><path transform="translate(233.24,906.50) scale(1.1667,1.1667)" d="M6.2,4.86 C5.42,4.4 4.03,4.4 3.1,4.4 C0.93,4.4 0,5.54 0,8.2 C0,10.86 0.93,12 3.1,12 C4.03,12 5.42,12 6.2,11.54"/><path transform="translate(244.82,906.50) scale(1.1667,1.1667)" d="M2,0.4 L2,10.6 C2,11.5 2.5,12 3.3,12 L4.4,12 M0,4.4 L4.2,4.4"/><path transform="translate(254.75,906.50) scale(1.1667,1.1667)" d="M0,4.4 L0,12 M-0.6,1.6 L0,1 L0.6,1.6"/><path transform="translate(259.56,906.50) scale(1.1667,1.1667)" d="M3.5,4.4 C5.81,4.4 7,5.59 7,7.9 L7,8.5 C7,10.81 5.81,12 3.5,12 C1.19,12 0,10.81 0,8.5 L0,7.9 C0,5.59 1.19,4.4 3.5,4.4 Z"/><path transform="translate(272.06,906.50) scale(1.1667,1.1667)" d="M0,4.4 L0,12 M0,6.2 C0.6,4.8 1.98,4.4 3.3,4.4 C5.61,4.4 6.6,5.2 6.6,6.8 L6.6,12"/><path transform="translate(296.02,906.50) scale(1.1667,1.1667)" d="M6.6,4.4 L6.6,12 M6.6,6.2 C5.8,4.8 4.62,4.4 3.3,4.4 C0.79,4.4 0,5.8 0,8.2 C0,10.6 0.79,12 3.3,12 C4.62,12 5.8,11.6 6.6,10.2"/><path transform="translate(308.06,906.50) scale(1.1667,1.1667)" d="M0,4.4 L0,12 M0,7 C0.6,5.2 1.8,4.4 3.2,4.4 C3.8,4.4 4.3,4.5 4.6,4.7"/><path transform="translate(317.76,906.50) scale(1.1667,1.1667)" d="M0,8.2 L6.6,8.2 C6.6,5.6 5.4,4.4 3.3,4.4 C1,4.4 0,5.8 0,8.2 C0,10.8 1,12 3.3,12 C4.8,12 5.8,11.6 6.4,10.6"/><path transform="translate(329.80,906.50) scale(1.1667,1.1667)" d="M6.6,4.4 L6.6,12 M6.6,6.2 C5.8,4.8 4.62,4.4 3.3,4.4 C0.79,4.4 0,5.8 0,8.2 C0,10.6 0.79,12 3.3,12 C4.62,12 5.8,11.6 6.6,10.2"/></g>
<path class="f" d="M120,998h1v1h-1zM120,999h1v1h-1zM121,996h1v1h-1zM121,997h1v1h-1zM121,1000h1v1h-1zM121,1001h1v1h-1zM122,995h1v1h-1zM122,1002h1v1h-1zM123,994h1v1h-1zM123,1003h1v1h-1zM124,994h1v1h-1zM124,1003h1v1h-1zM125,994h1v1h-1zM125,1003h1v1h-1zM126,994h1v1h-1zM126,1003h1v1h-1zM127,994h1v1h-1zM127,1003h1v1h-1zM128,995h1v1h-1zM128,1002h1v1h-1zM129,996h1v1h-1zM129,997h1v1h-1zM129,1000h1v1h-1zM129,1001h1v1h-1zM130,998h1v1h-1zM130,999h1v1h-1z"/>
<path class="f" d="M168,997h1v1h-1zM168,998h1v1h-1zM168,999h1v1h-1zM168,1000h1v1h-1zM169,996h1v1h-1zM169,1001h1v1h-1zM170,995h1v1h-1zM170,1002h1v1h-1zM171,994h1v1h-1zM171,1003h1v1h-1zM172,994h1v1h-1zM172,1003h1v1h-1zM173,994h1v1h-1zM173,1003h1v1h-1zM174,994h1v1h-1zM174,1003h1v1h-1zM175,995h1v1h-1zM175,1002h1v1h-1zM176,995h1v1h-1zM176,1002h1v1h-1zM177,996h1v1h-1zM177,997h1v1h-1zM177,998h1v1h-1zM177,999h1v1h-1zM177,1000h1v1h-1zM177,1001h1v1h-1z"/>
<path class="f" d="M216,997h1v1h-1zM216,998h1v1h-1zM216,999h1v1h-1zM216,1000h1v1h-1zM217,995h1v1h-1zM217,996h1v1h-1zM217,1001h1v1h-1zM217,1002h1v1h-1zM218,995h1v1h-1zM218,1002h1v1h-1zM219,994h1v1h-1zM219,1003h1v1h-1zM220,994h1v1h-1zM220,1003h1v1h-1zM221,994h1v1h-1zM221,1003h1v1h-1zM222,994h1v1h-1zM222,1003h1v1h-1zM223,995h1v1h-1zM223,1002h1v1h-1zM224,996h1v1h-1zM224,1001h1v1h-1zM225,997h1v1h-1zM225,998h1v1h-1zM225,999h1v1h-1zM225,1000h1v1h-1z"/>
<path class="f" d="M264,996h1v1h-1zM264,997h1v1h-1zM264,998h1v1h-1zM264,999h1v1h-1zM264,1000h1v1h-1zM264,1001h1v1h-1zM265,995h1v1h-1zM265,1002h1v1h-1zM266,994h1v1h-1zM266,1003h1v1h-1zM267,994h1v1h-1zM267,1003h1v1h-1zM268,994h1v1h-1zM268,1003h1v1h-1zM269,994h1v1h-1zM269,1003h1v1h-1zM270,994h1v1h-1zM270,1003h1v1h-1zM271,995h1v1h-1zM271,1002h1v1h-1zM272,996h1v1h-1zM272,997h1v1h-1zM272,1000h1v1h-1zM272,1001h1v1h-1zM273,998h1v1h-1zM273,999h1v1h-1z"/>
<rect x="315" y="998" width="2" height="2"/>
<rect x="363" y="998" width="2" height="2"/>
<rect x="410" y="998" width="2" height="2"/>
<rect x="458" y="998" width="2" height="2"/>
<path d="M127.5,996.5L145.5,963.5"/>
<path d="M127.50,996.50L133.48,989.51L130.14,987.69Z"/>
<rect x="145" y="963" width="92" height="1"/>
<g class="t"><path transform="translate(153.50,948.50) scale(0.8333,0.8333)" d="M0.2,2 C0.8,0.6 2,0 3.6,0 C5.8,0 6.8,1.2 6.8,2.9 C6.8,4.6 5.6,5.6 3.2,5.6 C5.8,5.6 7,6.8 7,8.7 C7,10.8 5.6,12 3.5,12 C1.8,12 0.6,11.3 0,10"/><path transform="translate(163.56,948.50) scale(0.8333,0.8333)" d="M4,0 C6.48,0 8,1.52 8,4 L8,8 C8,10.48 6.48,12 4,12 C1.52,12 0,10.48 0,8 L0,4 C0,1.52 1.52,0 4,0 Z"/><path transform="translate(174.45,948.50) scale(0.8333,0.8333)" d="M0,5.4 L6,12 M6,5.4 L0,12"/><path transform="translate(183.68,948.50) scale(0.8333,0.8333)" d="M3.5,1.8 C5.8,1.8 7,3.7 7,6.4 C7,9.1 5.8,11 3.5,11 C1.2,11 0,9.1 0,6.4 C0,3.7 1.2,1.8 3.5,1.8 Z M1.4,11.6 L6,0.6"/><path transform="translate(193.74,948.50) scale(0.8333,0.8333)" d="M4,0 C6.48,0 8,1.52 8,4 L8,8 C8,10.48 6.48,12 4,12 C1.52,12 0,10.48 0,8 L0,4 C0,1.52 1.52,0 4,0 Z"/><rect x="205" y="956" width="1" height="2"/><rect x="204" y="958" width="2" height="1"/><path transform="translate(210.77,948.50) scale(0.8333,0.8333)" d="M0,2.4 C0.6,0.6 1.8,0 3.4,0 C5.6,0 6.8,1.2 6.8,3.3 C6.8,4.6 6.2,5.5 5.2,6.4 L0,12 L6.8,12"/><path transform="translate(220.67,948.50) scale(0.8333,0.8333)" d="M6.6,0 L0.8,0 L0.4,5 C1.2,4.6 2.2,4.4 3.4,4.4 C5.8,4.4 7,5.8 7,8.1 C7,10.6 5.6,12 3.4,12 C1.8,12 0.6,11.4 0,10.2"/></g>
<rect x="125" y="1006" width="1" height="50"/>
<rect x="173" y="1006" width="1" height="50"/>
<rect x="125" y="1052" width="49" height="1"/>
<rect x="131" y="1051" width="2" height="2" style="fill:#fff"/>
<rect x="126" y="1051" width="4" height="2"/>
<rect x="130" y="1050" width="4" height="1"/>
<rect x="130" y="1053" width="4" height="1"/>
<rect x="133" y="1050" width="1" height="4"/>
<rect x="130" y="1050" width="1" height="1"/>
<rect x="166" y="1051" width="2" height="2" style="fill:#fff"/>
<rect x="169" y="1051" width="4" height="2"/>
<rect x="165" y="1050" width="4" height="1"/>
<rect x="165" y="1053" width="4" height="1"/>
<rect x="165" y="1050" width="1" height="4"/>
<rect x="168" y="1050" width="1" height="1"/>
<g class="t"><path transform="translate(132.50,1039.50) scale(0.8333,0.8333)" d="M0.2,2 C0.8,0.6 2,0 3.6,0 C5.8,0 6.8,1.2 6.8,2.9 C6.8,4.6 5.6,5.6 3.2,5.6 C5.8,5.6 7,6.8 7,8.7 C7,10.8 5.6,12 3.5,12 C1.8,12 0.6,11.3 0,10"/><rect x="144" y="1047" width="1" height="2"/><rect x="143" y="1049" width="2" height="1"/><path transform="translate(149.64,1039.50) scale(0.8333,0.8333)" d="M5.8,12 L5.8,0 L0,8.4 L7.6,8.4"/><path transform="translate(160.67,1039.50) scale(0.8333,0.8333)" d="M6.6,0 L0.8,0 L0.4,5 C1.2,4.6 2.2,4.4 3.4,4.4 C5.8,4.4 7,5.8 7,8.1 C7,10.6 5.6,12 3.4,12 C1.8,12 0.6,11.4 0,10.2"/></g>
</svg>
</body></html>
